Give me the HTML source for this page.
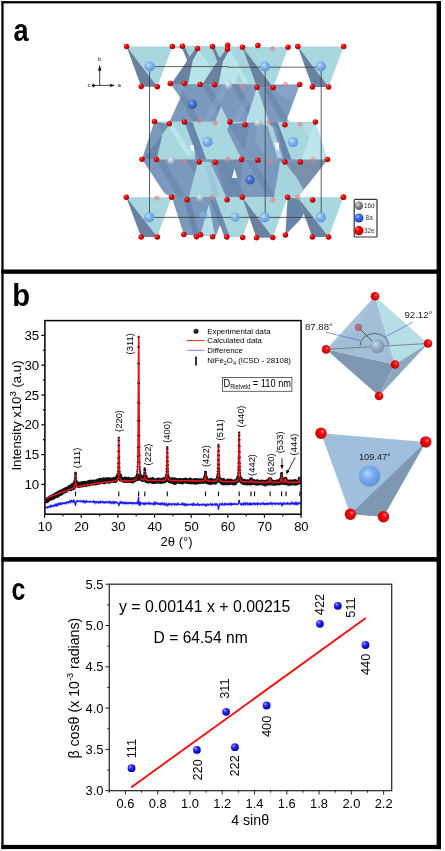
<!DOCTYPE html>
<html><head><meta charset="utf-8"><style>
html,body{margin:0;padding:0;background:#fff;width:445px;height:851px;overflow:hidden;}
svg{display:block;}
text{font-family:"Liberation Sans",sans-serif;}
</style></head><body>
<svg style="will-change:transform" width="445" height="851" viewBox="0 0 445 851">
<defs>
<clipPath id="clipb"><rect x="45.5" y="321" width="255" height="193"/></clipPath>
<radialGradient id="gblue" cx="0.35" cy="0.32" r="0.75"><stop offset="0" stop-color="#c8c8ff"/><stop offset="0.25" stop-color="#3a3aff"/><stop offset="0.7" stop-color="#0a0ad8"/><stop offset="1" stop-color="#000090"/></radialGradient>
<radialGradient id="gred" cx="0.35" cy="0.32" r="0.75"><stop offset="0" stop-color="#ff8a8a"/><stop offset="0.3" stop-color="#f00000"/><stop offset="1" stop-color="#a00000"/></radialGradient>
<radialGradient id="glb" cx="0.38" cy="0.35" r="0.7"><stop offset="0" stop-color="#cfe6ff"/><stop offset="0.35" stop-color="#86b8ee"/><stop offset="1" stop-color="#5a90d8"/></radialGradient>
<radialGradient id="gdb" cx="0.38" cy="0.35" r="0.7"><stop offset="0" stop-color="#9ab8f0"/><stop offset="0.35" stop-color="#4a78d0"/><stop offset="1" stop-color="#2a50a8"/></radialGradient>
<radialGradient id="ggr" cx="0.38" cy="0.35" r="0.7"><stop offset="0" stop-color="#f4f8f8"/><stop offset="0.4" stop-color="#c8d4d8"/><stop offset="1" stop-color="#98a8b0"/></radialGradient>
<radialGradient id="ggr2" cx="0.38" cy="0.35" r="0.7"><stop offset="0" stop-color="#e0e0e0"/><stop offset="0.4" stop-color="#909090"/><stop offset="1" stop-color="#505050"/></radialGradient>
<radialGradient id="glg" cx="0.38" cy="0.35" r="0.7"><stop offset="0" stop-color="#a8c4ff"/><stop offset="0.35" stop-color="#3a6ee8"/><stop offset="1" stop-color="#1840a8"/></radialGradient>
<radialGradient id="gred2" cx="0.62" cy="0.36" r="0.75"><stop offset="0" stop-color="#ff9a9a"/><stop offset="0.25" stop-color="#f21010"/><stop offset="0.75" stop-color="#d00000"/><stop offset="1" stop-color="#900000"/></radialGradient>
<radialGradient id="gsb" cx="0.38" cy="0.35" r="0.7"><stop offset="0" stop-color="#c8daf0"/><stop offset="0.4" stop-color="#9ab4cc"/><stop offset="1" stop-color="#7890a8"/></radialGradient>
<radialGradient id="gtb" cx="0.4" cy="0.38" r="0.65"><stop offset="0" stop-color="#b8d8ff"/><stop offset="0.4" stop-color="#7eb0f0"/><stop offset="1" stop-color="#5a8ed8"/></radialGradient>
</defs><polygon points="182.3,45.8 288.0,47.2 273.2,87.4 257.0,87.3 242.6,85.0 170.3,83.8 188.7,60.2" fill="#a9d7df"/>
<polygon points="172.4,46.2 182.3,45.8 183.5,48.2 172.0,48.2" fill="#a9d7df"/>
<polygon points="192.0,60.0 197.5,48.4 210.0,66.0 206.0,84.0 186.5,84.0" fill="#bde6ee" fill-opacity="0.85"/>
<polygon points="222.0,61.3 227.6,49.6 239.5,66.0 236.0,84.0 217.0,84.0" fill="#bde6ee" fill-opacity="0.85"/>
<polygon points="226.0,51.0 231.0,51.0 248.5,83.0 243.5,83.0" fill="#bde6ee" fill-opacity="0.90"/>
<polygon points="181.2,45.8 184.2,45.8 189.5,57.0 196.0,47.8 199.0,49.5 192.8,60.5 188.0,84.0 171.5,84.0 187.2,60.5" fill="#6a829f"/>
<polygon points="211.4,46.5 214.2,46.5 219.6,58.0 226.4,49.0 229.0,50.5 223.0,61.5 218.6,84.0 202.5,84.0 217.4,61.5" fill="#6a829f"/>
<polygon points="170.3,84.0 299.7,84.6 284.9,124.8 169.3,122.5 180.6,97.0" fill="#7b99bd"/>
<polygon points="172.0,84.0 179.0,84.0 201.0,122.5 194.0,122.5" fill="#6886aa" fill-opacity="0.70"/>
<polygon points="201.5,84.0 208.5,84.0 230.5,122.5 223.5,122.5" fill="#6886aa" fill-opacity="0.70"/>
<polygon points="231.0,84.0 238.0,84.0 260.0,122.5 253.0,122.5" fill="#6886aa" fill-opacity="0.70"/>
<polygon points="260.5,84.0 267.5,84.0 289.5,122.5 282.5,122.5" fill="#6886aa" fill-opacity="0.70"/>
<polygon points="223.5,84.0 230.5,84.0 208.5,122.5 201.5,122.5" fill="#8fb0d2" fill-opacity="0.35"/>
<polygon points="253.0,84.0 260.0,84.0 238.0,122.5 231.0,122.5" fill="#8fb0d2" fill-opacity="0.35"/>
<polygon points="170.3,84.0 184.3,84.0 180.6,97.0" fill="#8fb0d2" fill-opacity="0.50"/>
<polygon points="257.0,87.0 245.7,122.5 269.3,122.5" fill="#bde6ee" fill-opacity="0.90"/>
<polygon points="221.0,106.0 215.0,122.3 229.0,122.3" fill="#bde6ee" fill-opacity="0.80"/>
<polygon points="272.0,87.0 299.7,84.6 292.0,100.0 281.0,96.0" fill="#8fb0d2" fill-opacity="0.50"/>
<polygon points="154.5,121.4 315.4,122.1 327.5,159.4 142.0,159.2" fill="#a9d7df"/>
<polygon points="154.5,121.4 162.6,134.0 142.0,159.2" fill="#7b99bd"/>
<polygon points="162.6,134.0 156.4,160.1 142.0,159.2" fill="#6886aa"/>
<polygon points="154.5,121.4 169.6,124.2 162.6,134.0" fill="#6886aa" fill-opacity="0.85"/>
<polygon points="166.7,124.0 172.7,124.0 192.9,156.1 186.9,156.1" fill="#bde6ee" fill-opacity="0.90"/>
<polygon points="195.0,131.0 204.0,160.5 195.0,160.5" fill="#6886aa" fill-opacity="0.80"/>
<polygon points="224.0,124.0 258.0,122.4 266.0,126.0 266.0,159.5 241.9,159.5" fill="#7b99bd"/>
<polygon points="228.0,124.0 250.0,123.0 244.0,150.0" fill="#6886aa" fill-opacity="0.60"/>
<polygon points="258.0,122.4 266.0,126.0 266.0,159.5 255.0,140.0" fill="#8fb0d2" fill-opacity="0.50"/>
<polygon points="184.5,122.0 230.0,122.0 215.4,162.0 199.2,162.0" fill="#a9d7df"/>
<polygon points="184.5,122.0 192.5,122.0 207.0,161.5 199.2,162.0" fill="#6886aa"/>
<polygon points="269.5,122.1 315.4,122.1 300.3,162.1 284.9,162.1" fill="#a9d7df"/>
<polygon points="269.5,122.1 277.5,122.1 292.5,162.0 284.9,162.1" fill="#6886aa"/>
<polygon points="315.4,122.1 327.5,159.6 300.3,162.1" fill="#bde6ee" fill-opacity="0.95"/>
<polygon points="300.3,124.5 315.4,122.1 310.0,140.0" fill="#bde6ee" fill-opacity="0.50"/>
<polygon points="266.0,126.0 276.0,126.0 284.9,162.0 266.0,159.5" fill="#7b99bd" fill-opacity="0.90"/>
<polygon points="267.5,126.0 272.5,126.0 282.5,158.0 277.5,158.0" fill="#bde6ee" fill-opacity="0.70"/>
<polygon points="189.9,145.3 194.0,145.3 194.0,150.7 191.5,151.5" fill="#ffffff" fill-opacity="0.95"/>
<polygon points="274.5,142.5 279.0,142.5 279.0,149.6 276.5,150.5" fill="#ffffff" fill-opacity="0.95"/>
<polygon points="142.0,159.2 327.5,159.4 304.8,188.3 297.6,197.2 172.0,197.2 164.5,193.2" fill="#7b99bd"/>
<polygon points="156.0,160.0 164.0,160.0 186.0,197.5 178.0,197.5" fill="#6886aa" fill-opacity="0.60"/>
<polygon points="186.0,160.0 194.0,160.0 216.0,197.5 208.0,197.5" fill="#6886aa" fill-opacity="0.60"/>
<polygon points="216.0,160.0 224.0,160.0 246.0,197.5 238.0,197.5" fill="#6886aa" fill-opacity="0.60"/>
<polygon points="246.0,160.0 254.0,160.0 276.0,197.5 268.0,197.5" fill="#6886aa" fill-opacity="0.60"/>
<polygon points="198.0,162.0 210.0,162.0 227.0,199.0 188.0,199.9" fill="#a9d7df" fill-opacity="0.95"/>
<polygon points="205.0,166.0 210.0,166.0 220.0,197.0 214.0,197.0" fill="#8fb0d2" fill-opacity="0.35"/>
<polygon points="280.0,162.0 290.0,162.0 303.0,190.0 297.6,197.2 274.0,197.0" fill="#a9d7df" fill-opacity="0.95"/>
<polygon points="284.5,162.0 327.8,159.4 304.8,188.3" fill="#7890aa"/>
<polygon points="215.0,162.0 242.0,159.4 240.0,197.0 227.0,199.0" fill="#6886aa" fill-opacity="0.70"/>
<polygon points="231.9,178.0 237.2,178.0 234.6,168.5" fill="#ffffff" fill-opacity="0.95"/>
<polygon points="171.8,197.0 212.1,197.0 227.0,237.0 183.9,234.8" fill="#7b99bd"/>
<polygon points="209.0,204.0 200.4,234.8 215.0,236.6" fill="#bde6ee" fill-opacity="0.90"/>
<polygon points="184.1,199.6 190.1,199.6 199.5,236.6 193.5,236.6" fill="#6886aa" fill-opacity="0.90"/>
<polygon points="212.1,197.0 257.5,197.0 242.3,237.3 227.0,237.0" fill="#a9d7df"/>
<polygon points="209.1,197.0 215.1,197.0 230.0,237.0 224.0,237.0" fill="#6886aa" fill-opacity="0.90"/>
<polygon points="287.6,197.2 312.7,199.9 300.0,220.0 285.4,234.9" fill="#6886aa"/>
<polygon points="215.5,237.0 224.5,237.0 220.0,225.0" fill="#ffffff" fill-opacity="0.95"/>
<polygon points="126.6,46.6 172.4,46.6 157.3,86.7 141.2,86.5" fill="#a9d7df"/>
<polygon points="126.6,46.6 157.3,86.7 141.2,86.5" fill="#6a829f"/>
<polygon points="242.5,47.2 288.0,47.2 273.2,87.4 257.0,87.3" fill="#a9d7df"/>
<polygon points="242.5,47.2 273.2,87.4 257.0,87.3" fill="#6a829f"/>
<polygon points="297.8,46.6 343.7,46.6 328.6,87.1 312.4,87.1" fill="#a9d7df"/>
<polygon points="297.8,46.6 328.6,87.1 312.4,87.1" fill="#6a829f"/>
<polygon points="126.3,197.2 171.6,197.2 157.3,237.1 141.2,237.1" fill="#a9d7df"/>
<polygon points="126.3,197.2 157.3,237.1 141.2,237.1" fill="#6a829f"/>
<polygon points="242.3,197.3 287.6,197.2 272.8,237.6 256.5,237.7" fill="#a9d7df"/>
<polygon points="242.3,197.3 272.8,237.6 256.5,237.7" fill="#6a829f"/>
<polygon points="297.6,197.2 343.4,197.2 328.6,237.1 312.4,237.1" fill="#a9d7df"/>
<polygon points="297.6,197.2 328.6,237.1 312.4,237.1" fill="#6a829f"/>
<g stroke="#383838" stroke-width="0.8" fill="none">
<polyline points="149.5,66.6 227.8,66.6 227.8,67.2 321.2,67.2"/>
<line x1="149.5" y1="66.6" x2="149.5" y2="217.4"/>
<line x1="265.2" y1="66.6" x2="265.2" y2="217.4"/>
<line x1="321.2" y1="67.2" x2="321.2" y2="217"/>
<line x1="149.5" y1="217.4" x2="313" y2="217.4"/>
</g>
<circle cx="149.7" cy="66.5" r="5.1" fill="url(#glb)"/>
<circle cx="264.9" cy="66.5" r="5.1" fill="url(#glb)"/>
<circle cx="320.8" cy="66.4" r="5.1" fill="url(#glb)"/>
<circle cx="207.5" cy="141.8" r="5.1" fill="url(#glb)"/>
<circle cx="293.0" cy="142.2" r="5.1" fill="url(#glb)"/>
<circle cx="149.2" cy="217.4" r="5.1" fill="url(#glb)"/>
<circle cx="264.7" cy="217.4" r="5.1" fill="url(#glb)"/>
<circle cx="320.8" cy="217.4" r="5.1" fill="url(#glb)"/>
<circle cx="235.1" cy="217.2" r="4.6" fill="url(#glb)" fill-opacity="0.8"/>
<circle cx="203.5" cy="215.3" r="4.4" fill="url(#glb)" fill-opacity="0.4"/>
<circle cx="192.4" cy="104.2" r="4.7" fill="url(#gdb)"/>
<circle cx="250.1" cy="179.8" r="4.7" fill="url(#gdb)"/>
<circle cx="228.6" cy="85.2" r="3.7" fill="url(#ggr)" fill-opacity="0.85"/>
<circle cx="257.9" cy="123.0" r="3.7" fill="url(#ggr)" fill-opacity="0.85"/>
<circle cx="171.1" cy="160.5" r="3.7" fill="url(#ggr)" fill-opacity="0.85"/>
<circle cx="200.0" cy="197.6" r="3.7" fill="url(#ggr)" fill-opacity="0.85"/>
<circle cx="272.7" cy="48.5" r="2.6" fill="#e08080" fill-opacity="0.6"/>
<circle cx="242.6" cy="87.0" r="2.6" fill="#e08080" fill-opacity="0.6"/>
<circle cx="285.6" cy="84.3" r="2.6" fill="#e08080" fill-opacity="0.6"/>
<circle cx="199.8" cy="120.6" r="2.6" fill="#e08080" fill-opacity="0.6"/>
<circle cx="215.3" cy="122.8" r="2.6" fill="#e08080" fill-opacity="0.6"/>
<circle cx="269.5" cy="122.1" r="2.6" fill="#e08080" fill-opacity="0.6"/>
<circle cx="300.3" cy="124.3" r="2.6" fill="#e08080" fill-opacity="0.6"/>
<circle cx="184.6" cy="161.6" r="2.6" fill="#e08080" fill-opacity="0.6"/>
<circle cx="227.7" cy="159.4" r="2.6" fill="#e08080" fill-opacity="0.6"/>
<circle cx="270.0" cy="161.0" r="2.6" fill="#e08080" fill-opacity="0.6"/>
<circle cx="313.2" cy="159.4" r="2.6" fill="#e08080" fill-opacity="0.6"/>
<circle cx="156.8" cy="198.0" r="2.6" fill="#e08080" fill-opacity="0.6"/>
<circle cx="212.0" cy="197.4" r="2.6" fill="#e08080" fill-opacity="0.6"/>
<circle cx="272.8" cy="199.9" r="2.6" fill="#e08080" fill-opacity="0.6"/>
<circle cx="297.6" cy="197.2" r="2.6" fill="#e08080" fill-opacity="0.6"/>
<circle cx="126.6" cy="46.6" r="2.75" fill="url(#gred)"/>
<circle cx="172.4" cy="46.6" r="2.75" fill="url(#gred)"/>
<circle cx="182.4" cy="46.2" r="2.75" fill="url(#gred)"/>
<circle cx="197.5" cy="48.6" r="2.75" fill="url(#gred)"/>
<circle cx="212.5" cy="46.5" r="2.75" fill="url(#gred)"/>
<circle cx="227.7" cy="45.3" r="2.75" fill="url(#gred)"/>
<circle cx="227.5" cy="49.2" r="2.75" fill="url(#gred)"/>
<circle cx="242.5" cy="47.2" r="2.75" fill="url(#gred)"/>
<circle cx="257.9" cy="45.6" r="2.75" fill="url(#gred)"/>
<circle cx="288.0" cy="47.2" r="2.75" fill="url(#gred)"/>
<circle cx="297.8" cy="46.6" r="2.75" fill="url(#gred)"/>
<circle cx="343.7" cy="46.6" r="2.75" fill="url(#gred)"/>
<circle cx="141.2" cy="86.5" r="2.75" fill="url(#gred)"/>
<circle cx="157.3" cy="86.7" r="2.75" fill="url(#gred)"/>
<circle cx="170.3" cy="83.4" r="2.75" fill="url(#gred)"/>
<circle cx="184.3" cy="83.4" r="2.75" fill="url(#gred)"/>
<circle cx="200.2" cy="84.4" r="2.75" fill="url(#gred)"/>
<circle cx="214.6" cy="84.7" r="2.75" fill="url(#gred)"/>
<circle cx="257.0" cy="87.3" r="2.75" fill="url(#gred)"/>
<circle cx="273.2" cy="87.4" r="2.75" fill="url(#gred)"/>
<circle cx="299.7" cy="84.6" r="2.75" fill="url(#gred)"/>
<circle cx="312.4" cy="87.1" r="2.75" fill="url(#gred)"/>
<circle cx="328.6" cy="87.1" r="2.75" fill="url(#gred)"/>
<circle cx="154.5" cy="121.4" r="2.75" fill="url(#gred)"/>
<circle cx="169.3" cy="123.8" r="2.75" fill="url(#gred)"/>
<circle cx="184.5" cy="122.0" r="2.75" fill="url(#gred)"/>
<circle cx="230.0" cy="122.0" r="2.75" fill="url(#gred)"/>
<circle cx="245.0" cy="124.8" r="2.75" fill="url(#gred)"/>
<circle cx="284.9" cy="124.8" r="2.75" fill="url(#gred)"/>
<circle cx="315.4" cy="122.1" r="2.75" fill="url(#gred)"/>
<circle cx="142.0" cy="159.2" r="2.75" fill="url(#gred)"/>
<circle cx="156.5" cy="159.6" r="2.75" fill="url(#gred)"/>
<circle cx="199.2" cy="161.9" r="2.75" fill="url(#gred)"/>
<circle cx="215.4" cy="162.2" r="2.75" fill="url(#gred)"/>
<circle cx="241.7" cy="159.4" r="2.75" fill="url(#gred)"/>
<circle cx="257.9" cy="160.2" r="2.75" fill="url(#gred)"/>
<circle cx="284.9" cy="162.1" r="2.75" fill="url(#gred)"/>
<circle cx="300.3" cy="162.1" r="2.75" fill="url(#gred)"/>
<circle cx="327.5" cy="159.4" r="2.75" fill="url(#gred)"/>
<circle cx="126.3" cy="197.2" r="2.75" fill="url(#gred)"/>
<circle cx="171.6" cy="197.2" r="2.75" fill="url(#gred)"/>
<circle cx="187.1" cy="199.7" r="2.75" fill="url(#gred)"/>
<circle cx="227.1" cy="199.7" r="2.75" fill="url(#gred)"/>
<circle cx="242.3" cy="197.3" r="2.75" fill="url(#gred)"/>
<circle cx="287.6" cy="197.2" r="2.75" fill="url(#gred)"/>
<circle cx="312.7" cy="199.9" r="2.75" fill="url(#gred)"/>
<circle cx="343.4" cy="197.2" r="2.75" fill="url(#gred)"/>
<circle cx="141.2" cy="237.1" r="2.75" fill="url(#gred)"/>
<circle cx="157.3" cy="237.1" r="2.75" fill="url(#gred)"/>
<circle cx="183.8" cy="234.5" r="2.75" fill="url(#gred)"/>
<circle cx="196.5" cy="236.8" r="2.75" fill="url(#gred)"/>
<circle cx="200.6" cy="234.8" r="2.75" fill="url(#gred)"/>
<circle cx="212.6" cy="236.8" r="2.75" fill="url(#gred)"/>
<circle cx="226.8" cy="237.1" r="2.75" fill="url(#gred)"/>
<circle cx="242.7" cy="237.4" r="2.75" fill="url(#gred)"/>
<circle cx="256.5" cy="237.7" r="2.75" fill="url(#gred)"/>
<circle cx="272.8" cy="237.6" r="2.75" fill="url(#gred)"/>
<circle cx="285.4" cy="234.9" r="2.75" fill="url(#gred)"/>
<circle cx="312.4" cy="237.1" r="2.75" fill="url(#gred)"/>
<circle cx="328.6" cy="237.1" r="2.75" fill="url(#gred)"/>
<circle cx="343.4" cy="197.3" r="2.75" fill="url(#gred)"/>
<rect x="354.2" y="199.4" width="22.8" height="37.6" fill="#fff" stroke="#333" stroke-width="1.2" rx="1"/>
<circle cx="358.9" cy="205.8" r="4.2" fill="url(#ggr2)"/>
<circle cx="358.9" cy="218" r="4.6" fill="url(#glg)"/>
<circle cx="358.9" cy="230.7" r="4.6" fill="url(#gred)"/>
<text x="364" y="207.9" font-size="6.4" fill="#333" font-family="Liberation Sans, sans-serif">16d</text>
<text x="365.6" y="220.2" font-size="6.4" fill="#333" font-family="Liberation Sans, sans-serif">8a</text>
<text x="364" y="232.9" font-size="6.4" fill="#333" font-family="Liberation Sans, sans-serif">32e</text>
<g stroke="#111" stroke-width="0.8"><line x1="93.5" y1="85.4" x2="111" y2="85.4"/><line x1="99.7" y1="85.4" x2="99.7" y2="69"/></g>
<path d="M99.7,64.6 L98,70.8 L101.4,70.8 Z M114.8,85.4 L110.3,83.7 L110.3,87.1 Z" fill="#111"/>
<path d="M93.5,83.4 L95.5,85.4 L93.5,87.4 L91.5,85.4 Z" fill="#111"/>
<text x="98.1" y="61.2" font-size="6.2" fill="#222" font-family="Liberation Sans, sans-serif">b</text>
<text x="117.6" y="86.9" font-size="6.2" fill="#222" font-family="Liberation Sans, sans-serif">a</text>
<text x="87.4" y="87.1" font-size="6.2" fill="#222" font-family="Liberation Sans, sans-serif">c</text>
<g clip-path="url(#clipb)">
<polyline fill="none" stroke="#111" stroke-width="4.2" stroke-linejoin="round" points="44.60,501.45 44.78,500.89 44.97,501.24 45.15,501.19 45.33,501.46 45.52,500.93 45.70,500.04 45.88,500.35 46.07,499.89 46.25,500.26 46.43,500.07 46.62,500.10 46.80,501.10 46.98,499.50 47.16,499.61 47.35,499.51 47.53,500.72 47.71,500.65 47.90,500.04 48.08,499.69 48.26,499.13 48.45,499.24 48.63,498.81 48.81,499.40 49.00,498.74 49.18,498.59 49.36,499.12 49.55,497.60 49.73,498.19 49.91,497.71 50.10,498.70 50.28,498.67 50.46,498.33 50.65,498.09 50.83,497.55 51.01,497.68 51.20,498.00 51.38,498.20 51.56,497.84 51.74,496.71 51.93,497.82 52.11,497.09 52.29,496.88 52.48,497.92 52.66,496.91 52.84,496.06 53.03,497.94 53.21,496.83 53.39,496.60 53.58,496.93 53.76,496.05 53.94,496.28 54.13,497.02 54.31,495.55 54.49,495.55 54.68,495.28 54.86,494.89 55.04,495.43 55.23,495.48 55.41,496.22 55.59,494.98 55.78,495.62 55.96,495.42 56.14,495.81 56.32,495.53 56.51,495.17 56.69,493.99 56.87,495.87 57.06,495.43 57.24,494.32 57.42,493.50 57.61,493.92 57.79,495.29 57.97,495.56 58.16,493.75 58.34,494.30 58.52,494.43 58.71,493.08 58.89,492.91 59.07,493.37 59.26,493.22 59.44,493.01 59.62,492.22 59.81,492.70 59.99,492.66 60.17,492.55 60.36,493.72 60.54,491.93 60.72,492.04 60.90,492.20 61.09,493.60 61.27,492.71 61.45,491.74 61.64,493.23 61.82,492.17 62.00,491.36 62.19,492.66 62.37,490.83 62.55,491.37 62.74,491.69 62.92,491.32 63.10,491.04 63.29,491.26 63.47,490.56 63.65,491.54 63.84,491.30 64.02,490.35 64.20,490.86 64.39,491.31 64.57,490.13 64.75,489.73 64.94,490.78 65.12,491.24 65.30,490.41 65.48,490.33 65.67,490.32 65.85,489.22 66.03,490.57 66.22,489.12 66.40,490.53 66.58,490.16 66.77,489.22 66.95,488.83 67.13,488.90 67.32,489.11 67.50,489.14 67.68,489.05 67.87,488.70 68.05,489.06 68.23,488.69 68.42,488.43 68.60,488.67 68.78,488.13 68.97,488.15 69.15,487.20 69.33,488.11 69.52,488.46 69.70,488.34 69.88,488.03 70.06,487.38 70.25,488.03 70.43,487.51 70.61,486.55 70.80,489.08 70.98,488.12 71.16,487.21 71.35,487.02 71.53,487.01 71.71,487.31 71.90,486.56 72.08,486.68 72.26,487.05 72.45,485.19 72.63,486.31 72.81,486.74 73.00,486.82 73.18,486.80 73.36,486.60 73.55,488.07 73.73,486.60 73.91,485.54 74.10,486.62 74.28,485.63 74.46,484.43 74.64,483.36 74.83,482.59 75.01,484.43 75.19,483.57 75.27,483.54 75.38,482.94 75.49,482.62 75.56,484.85 75.60,482.59 75.71,484.07 75.74,482.79 75.93,484.03 76.11,482.98 76.29,482.35 76.48,484.32 76.66,484.68 76.84,484.57 77.03,485.09 77.21,485.29 77.39,484.35 77.58,484.65 77.76,485.44 77.94,483.62 78.13,485.91 78.31,484.66 78.49,485.33 78.68,485.05 78.86,484.67 79.04,484.92 79.22,484.62 79.41,485.87 79.59,485.81 79.77,484.50 79.96,485.39 80.14,485.38 80.32,485.59 80.51,483.91 80.69,484.17 80.87,483.68 81.06,485.07 81.24,484.45 81.42,485.11 81.61,483.94 81.79,483.42 81.97,484.87 82.16,483.37 82.34,483.68 82.52,484.35 82.71,485.39 82.89,483.34 83.07,484.21 83.26,484.48 83.44,483.85 83.62,483.81 83.80,483.13 83.99,484.60 84.17,483.28 84.35,483.04 84.54,483.03 84.72,483.97 84.90,484.27 85.09,483.19 85.27,483.70 85.45,483.66 85.64,482.85 85.82,483.83 86.00,485.01 86.19,483.84 86.37,484.68 86.55,483.05 86.74,483.32 86.92,483.84 87.10,483.45 87.29,482.92 87.47,483.33 87.65,482.56 87.84,483.35 88.02,482.66 88.20,482.36 88.38,482.26 88.57,483.59 88.75,482.63 88.93,484.24 89.12,483.73 89.30,484.23 89.48,482.39 89.67,483.73 89.85,482.97 90.03,483.04 90.22,482.91 90.40,483.21 90.58,482.69 90.77,481.73 90.95,482.74 91.13,482.41 91.32,482.10 91.50,482.78 91.68,483.38 91.87,482.93 92.05,481.93 92.23,483.52 92.42,482.86 92.60,481.87 92.78,481.96 92.96,482.40 93.15,481.89 93.33,482.24 93.51,483.01 93.70,483.21 93.88,482.62 94.06,481.66 94.25,482.51 94.43,482.68 94.61,482.57 94.80,482.99 94.98,482.12 95.16,482.72 95.35,481.76 95.53,483.35 95.71,481.72 95.90,482.26 96.08,483.01 96.26,481.38 96.45,481.95 96.63,483.08 96.81,482.24 97.00,481.51 97.18,481.93 97.36,481.15 97.54,481.14 97.73,481.16 97.91,481.33 98.09,480.69 98.28,481.08 98.46,481.18 98.64,482.67 98.83,480.88 99.01,480.62 99.19,481.55 99.38,481.64 99.56,480.18 99.74,482.37 99.93,481.02 100.11,479.84 100.29,481.82 100.48,480.84 100.66,480.10 100.84,481.28 101.03,480.86 101.21,480.63 101.39,481.69 101.58,481.19 101.76,480.94 101.94,480.61 102.12,481.10 102.31,481.18 102.49,481.65 102.67,481.24 102.86,480.47 103.04,480.92 103.22,481.47 103.41,481.45 103.59,479.34 103.77,480.23 103.96,480.51 104.14,482.42 104.32,480.48 104.51,480.55 104.69,479.81 104.87,480.54 105.06,480.82 105.24,480.45 105.42,481.90 105.61,480.10 105.79,480.51 105.97,481.10 106.16,479.87 106.34,479.56 106.52,481.46 106.70,481.00 106.89,480.41 107.07,480.46 107.25,480.78 107.44,481.11 107.62,479.24 107.80,479.87 107.99,481.18 108.17,481.25 108.35,479.41 108.54,479.82 108.72,479.30 108.90,479.89 109.09,480.87 109.27,480.17 109.45,481.60 109.64,480.73 109.82,480.30 110.00,479.94 110.19,480.66 110.37,480.28 110.55,479.91 110.74,479.94 110.92,479.76 111.10,480.00 111.28,480.29 111.47,479.61 111.65,480.03 111.83,480.52 112.02,480.38 112.20,479.99 112.38,480.03 112.57,479.85 112.75,479.91 112.93,479.78 113.12,479.94 113.30,480.59 113.48,479.56 113.67,479.15 113.85,479.49 114.03,479.83 114.22,479.42 114.40,480.23 114.58,480.75 114.77,479.54 114.95,480.09 115.13,479.05 115.32,480.09 115.50,480.96 115.68,479.95 115.86,478.33 116.05,479.42 116.23,479.93 116.41,479.48 116.60,478.60 116.78,478.48 116.96,478.49 117.15,477.47 117.33,477.60 117.51,477.53 117.70,476.35 117.88,475.72 118.06,476.13 118.25,476.10 118.43,477.37 118.58,476.81 118.61,476.29 118.69,476.90 118.80,476.09 118.91,476.38 118.98,476.20 119.02,476.87 119.16,475.23 119.35,476.01 119.53,476.88 119.71,476.71 119.90,475.22 120.08,477.78 120.26,477.56 120.44,477.83 120.63,478.65 120.81,479.53 120.99,478.87 121.18,478.88 121.36,478.51 121.54,478.80 121.73,479.31 121.91,478.87 122.09,479.10 122.28,479.34 122.46,479.47 122.64,479.68 122.83,479.15 123.01,480.21 123.19,479.98 123.38,479.62 123.56,480.52 123.74,479.92 123.93,480.87 124.11,480.10 124.29,479.36 124.48,479.38 124.66,479.76 124.84,479.88 125.02,480.59 125.21,478.67 125.39,479.46 125.57,479.12 125.76,480.31 125.94,479.90 126.12,480.88 126.31,479.34 126.49,479.25 126.67,480.95 126.86,479.86 127.04,479.45 127.22,480.89 127.41,480.93 127.59,480.48 127.77,480.22 127.96,480.69 128.14,479.84 128.32,479.71 128.51,479.49 128.69,479.45 128.87,478.98 129.06,479.18 129.24,480.66 129.42,480.18 129.60,480.51 129.79,480.52 129.97,479.93 130.15,479.88 130.34,479.59 130.52,480.82 130.70,480.61 130.89,479.89 131.07,479.99 131.25,480.05 131.44,479.90 131.62,480.31 131.80,479.43 131.99,479.63 132.17,479.88 132.35,480.22 132.54,479.91 132.72,481.41 132.90,480.36 133.09,479.74 133.27,480.63 133.45,479.59 133.64,479.60 133.82,480.48 134.00,479.77 134.18,479.77 134.37,479.26 134.55,479.11 134.73,479.44 134.92,479.85 135.10,479.35 135.28,479.20 135.47,478.61 135.65,478.73 135.83,479.17 136.02,479.35 136.20,478.51 136.38,478.43 136.57,478.26 136.75,477.40 136.93,477.63 137.12,477.28 137.30,477.03 137.48,477.60 137.67,475.97 137.85,477.56 138.03,476.71 138.22,477.30 138.40,476.72 138.47,478.80 138.58,477.84 138.69,477.25 138.76,477.04 138.80,476.00 138.91,477.21 138.95,476.64 139.13,476.95 139.31,476.85 139.50,477.12 139.68,477.52 139.86,477.13 140.05,478.08 140.23,476.74 140.41,478.06 140.60,477.31 140.78,476.34 140.96,478.15 141.15,478.33 141.33,477.91 141.51,478.80 141.70,479.47 141.88,478.97 142.06,478.90 142.25,478.91 142.43,479.87 142.61,478.42 142.80,478.51 142.98,479.51 143.16,479.36 143.34,479.73 143.53,478.54 143.71,479.60 143.89,478.30 144.08,477.95 144.26,477.99 144.44,477.16 144.59,476.79 144.63,477.60 144.70,478.00 144.81,477.11 144.92,477.63 144.99,477.42 145.03,476.70 145.18,476.93 145.36,477.92 145.54,476.51 145.73,478.97 145.91,479.04 146.09,480.16 146.28,479.96 146.46,481.08 146.64,479.06 146.83,479.37 147.01,480.96 147.19,481.18 147.38,481.29 147.56,479.65 147.74,480.66 147.92,480.44 148.11,480.62 148.29,480.52 148.47,481.12 148.66,480.48 148.84,481.36 149.02,480.56 149.21,480.35 149.39,480.27 149.57,480.70 149.76,481.12 149.94,480.49 150.12,480.89 150.31,479.68 150.49,480.17 150.67,480.70 150.86,480.93 151.04,481.07 151.22,481.22 151.41,480.88 151.59,480.51 151.77,480.38 151.96,480.36 152.14,479.46 152.32,481.14 152.50,480.72 152.69,479.07 152.87,481.86 153.05,481.06 153.24,480.66 153.42,480.67 153.60,480.53 153.79,480.92 153.97,480.57 154.15,480.77 154.34,480.34 154.52,481.94 154.70,481.34 154.89,480.82 155.07,481.43 155.25,481.44 155.44,480.45 155.62,481.21 155.80,480.45 155.99,480.38 156.17,480.64 156.35,480.53 156.54,480.89 156.72,481.67 156.90,480.85 157.08,480.56 157.27,481.15 157.45,480.89 157.63,480.39 157.82,481.36 158.00,480.45 158.18,479.73 158.37,481.17 158.55,480.75 158.73,480.93 158.92,479.92 159.10,480.65 159.28,480.30 159.47,481.25 159.65,480.84 159.83,480.84 160.02,481.89 160.20,479.97 160.38,480.29 160.57,481.87 160.75,480.38 160.93,480.90 161.12,480.55 161.30,480.59 161.48,481.70 161.66,480.93 161.85,479.91 162.03,481.14 162.21,481.40 162.40,481.59 162.58,481.50 162.76,480.56 162.95,479.74 163.13,480.48 163.31,480.57 163.50,479.37 163.68,480.99 163.86,481.05 164.05,480.31 164.23,480.26 164.41,481.15 164.60,481.19 164.78,480.26 164.96,480.21 165.15,481.03 165.33,480.25 165.51,480.29 165.70,479.47 165.88,479.49 166.06,478.93 166.24,478.19 166.43,477.36 166.61,477.16 166.79,478.21 166.98,477.48 167.05,478.44 167.16,477.95 167.16,477.54 167.27,477.09 167.34,478.22 167.38,478.03 167.49,477.87 167.53,478.88 167.71,477.98 167.89,478.40 168.08,477.77 168.26,478.67 168.44,479.91 168.63,479.33 168.81,479.55 168.99,480.28 169.18,479.60 169.36,480.42 169.54,480.73 169.73,480.17 169.91,481.45 170.09,480.98 170.28,480.63 170.46,480.15 170.64,480.79 170.82,480.54 171.01,481.14 171.19,480.59 171.37,479.79 171.56,481.21 171.74,479.41 171.92,481.21 172.11,480.83 172.29,480.75 172.47,480.25 172.66,481.61 172.84,482.13 173.02,480.53 173.21,480.42 173.39,480.53 173.57,479.34 173.76,480.79 173.94,480.77 174.12,480.37 174.31,480.71 174.49,479.94 174.67,481.67 174.86,481.16 175.04,483.00 175.22,480.46 175.40,481.17 175.59,480.40 175.77,479.67 175.95,480.96 176.14,481.11 176.32,481.26 176.50,481.47 176.69,481.35 176.87,480.59 177.05,480.95 177.24,480.94 177.42,481.08 177.60,480.44 177.79,480.69 177.97,481.07 178.15,480.59 178.34,481.08 178.52,481.68 178.70,480.13 178.89,480.72 179.07,481.57 179.25,480.36 179.44,480.80 179.62,481.94 179.80,480.04 179.98,480.81 180.17,480.48 180.35,480.89 180.53,481.10 180.72,481.94 180.90,480.43 181.08,481.00 181.27,481.19 181.45,480.81 181.63,480.97 181.82,480.62 182.00,481.24 182.18,481.05 182.37,482.30 182.55,481.28 182.73,480.63 182.92,480.23 183.10,481.25 183.28,481.10 183.47,480.09 183.65,481.23 183.83,480.60 184.02,480.04 184.20,481.01 184.38,480.31 184.56,481.46 184.75,480.92 184.93,481.09 185.11,480.98 185.30,480.37 185.48,479.62 185.66,481.44 185.85,481.39 186.03,480.75 186.21,481.68 186.40,480.76 186.58,480.71 186.76,481.22 186.95,480.74 187.13,481.98 187.31,480.61 187.50,481.98 187.68,481.48 187.86,481.39 188.05,481.30 188.23,480.55 188.41,481.02 188.60,481.30 188.78,480.74 188.96,480.13 189.14,481.07 189.33,480.85 189.51,480.33 189.69,480.91 189.88,481.84 190.06,479.59 190.24,479.76 190.43,482.27 190.61,481.11 190.79,480.84 190.98,480.52 191.16,480.70 191.34,481.27 191.53,481.74 191.71,481.05 191.89,480.50 192.08,481.77 192.26,481.74 192.44,481.15 192.63,482.29 192.81,481.30 192.99,481.41 193.18,480.88 193.36,481.57 193.54,481.68 193.72,481.40 193.91,481.20 194.09,481.57 194.27,481.17 194.46,480.73 194.64,480.48 194.82,480.17 195.01,481.66 195.19,481.45 195.37,482.68 195.56,480.07 195.74,481.64 195.92,481.23 196.11,480.91 196.29,482.03 196.47,480.95 196.66,481.24 196.84,482.32 197.02,481.06 197.21,480.53 197.39,482.36 197.57,480.77 197.76,481.13 197.94,480.97 198.12,481.00 198.30,480.49 198.49,481.40 198.67,480.75 198.85,481.52 199.04,480.84 199.22,481.76 199.40,481.35 199.59,480.25 199.77,481.02 199.95,481.38 200.14,481.97 200.32,481.76 200.50,481.18 200.69,480.73 200.87,481.04 201.05,480.98 201.24,481.32 201.42,480.49 201.60,481.52 201.79,481.62 201.97,480.76 202.15,481.24 202.34,481.44 202.52,481.61 202.70,481.41 202.88,480.87 203.07,481.01 203.25,481.91 203.43,480.91 203.62,481.01 203.80,481.65 203.98,480.51 204.17,481.00 204.35,480.78 204.53,479.59 204.72,478.33 204.90,478.90 205.08,478.23 205.27,479.02 205.27,477.12 205.38,478.80 205.45,477.79 205.49,478.89 205.60,478.02 205.63,477.19 205.71,480.02 205.82,478.77 206.00,478.22 206.18,478.65 206.37,480.19 206.55,479.18 206.73,480.76 206.92,481.97 207.10,480.59 207.28,482.20 207.46,480.54 207.65,481.62 207.83,481.22 208.01,480.59 208.20,481.29 208.38,482.21 208.56,482.41 208.75,480.71 208.93,480.99 209.11,481.93 209.30,480.94 209.48,481.16 209.66,481.08 209.85,482.82 210.03,481.66 210.21,480.95 210.40,481.06 210.58,480.97 210.76,482.97 210.95,481.41 211.13,481.22 211.31,479.99 211.50,482.08 211.68,481.71 211.86,481.50 212.04,480.99 212.23,481.79 212.41,480.84 212.59,481.99 212.78,481.36 212.96,481.83 213.14,481.42 213.33,481.92 213.51,482.46 213.69,480.85 213.88,481.31 214.06,481.81 214.24,481.35 214.43,480.87 214.61,482.02 214.79,481.49 214.98,481.08 215.16,481.06 215.34,481.54 215.53,482.55 215.71,480.50 215.89,480.99 216.08,481.10 216.26,481.18 216.44,480.73 216.62,480.98 216.81,481.13 216.99,480.66 217.17,480.10 217.36,479.25 217.54,479.50 217.72,478.43 217.91,479.60 218.09,478.43 218.27,479.43 218.38,478.62 218.46,478.01 218.49,478.71 218.60,479.27 218.64,478.80 218.71,478.75 218.82,479.87 219.01,479.20 219.19,478.75 219.37,479.13 219.56,478.81 219.74,479.09 219.92,479.67 220.11,479.95 220.29,480.39 220.47,481.10 220.66,481.08 220.84,481.35 221.02,481.47 221.20,481.46 221.39,482.45 221.57,481.67 221.75,481.53 221.94,482.14 222.12,481.61 222.30,481.32 222.49,481.75 222.67,480.44 222.85,483.25 223.04,481.84 223.22,482.82 223.40,481.16 223.59,480.18 223.77,483.27 223.95,481.71 224.14,481.49 224.32,481.99 224.50,481.50 224.69,483.17 224.87,481.34 225.05,481.63 225.24,481.85 225.42,482.22 225.60,481.50 225.78,482.17 225.97,481.76 226.15,482.20 226.33,483.24 226.52,481.93 226.70,481.80 226.88,481.47 227.07,482.45 227.25,481.95 227.43,481.57 227.62,481.86 227.80,481.21 227.98,480.77 228.17,482.50 228.35,483.11 228.53,481.46 228.72,481.06 228.90,481.43 229.08,481.50 229.27,482.35 229.45,482.41 229.63,481.46 229.82,482.54 230.00,483.08 230.18,482.59 230.36,480.52 230.55,480.86 230.73,482.41 230.91,482.44 231.10,481.87 231.28,482.45 231.46,481.22 231.65,482.05 231.83,482.65 232.01,481.22 232.20,482.35 232.38,481.86 232.56,482.00 232.75,482.18 232.93,481.79 233.11,482.39 233.30,483.07 233.48,483.28 233.66,482.72 233.85,482.40 234.03,481.95 234.21,481.90 234.40,481.58 234.58,481.83 234.76,482.35 234.94,482.28 235.13,483.10 235.31,481.91 235.49,481.49 235.68,481.42 235.86,481.76 236.04,481.74 236.23,481.01 236.41,481.48 236.59,480.95 236.78,480.93 236.96,481.00 237.14,480.16 237.33,481.03 237.51,480.57 237.69,480.35 237.88,479.73 238.06,478.33 238.24,478.21 238.43,479.25 238.61,478.93 238.79,478.57 238.94,478.79 238.98,478.56 239.05,480.03 239.16,479.66 239.27,479.01 239.34,478.43 239.38,479.22 239.52,479.80 239.71,479.50 239.89,479.69 240.07,479.81 240.26,478.40 240.44,479.67 240.62,479.91 240.81,479.12 240.99,480.05 241.17,480.81 241.36,481.57 241.54,481.12 241.72,480.52 241.91,481.22 242.09,480.92 242.27,481.69 242.46,481.50 242.64,481.98 242.82,481.65 243.01,481.17 243.19,482.84 243.37,482.05 243.56,481.90 243.74,482.41 243.92,482.27 244.10,481.64 244.29,480.93 244.47,481.77 244.65,481.96 244.84,483.10 245.02,481.04 245.20,482.15 245.39,482.23 245.57,482.89 245.75,482.26 245.94,482.89 246.12,482.21 246.30,481.98 246.49,482.25 246.67,482.11 246.85,482.79 247.04,481.43 247.22,482.68 247.40,483.38 247.59,482.41 247.77,482.76 247.95,482.91 248.14,482.53 248.32,482.14 248.50,483.02 248.68,482.40 248.87,481.47 249.05,481.91 249.23,482.41 249.42,482.23 249.60,482.37 249.78,482.31 249.97,481.81 250.15,482.23 250.33,483.48 250.52,481.84 250.70,482.05 250.88,480.75 251.03,481.21 251.07,480.70 251.14,479.39 251.25,481.26 251.36,481.37 251.43,481.63 251.47,482.28 251.62,482.27 251.80,481.33 251.98,482.24 252.17,483.20 252.35,483.11 252.53,481.94 252.72,482.81 252.90,482.60 253.08,482.20 253.26,481.60 253.45,481.27 253.63,481.82 253.81,482.36 254.00,482.34 254.18,481.39 254.36,481.62 254.55,482.66 254.73,482.21 254.91,482.31 255.10,482.46 255.28,482.79 255.46,483.29 255.65,482.82 255.83,483.43 256.01,481.78 256.20,482.20 256.38,483.24 256.56,481.69 256.75,482.00 256.93,483.67 257.11,481.44 257.30,482.06 257.48,481.32 257.66,483.28 257.84,482.24 258.03,482.30 258.21,482.44 258.39,482.46 258.58,481.94 258.76,483.46 258.94,483.32 259.13,483.41 259.31,482.91 259.49,482.95 259.68,482.37 259.86,482.43 260.04,482.58 260.23,483.00 260.41,482.87 260.59,482.04 260.78,482.15 260.96,482.55 261.14,482.81 261.33,481.69 261.51,482.98 261.69,482.24 261.88,481.94 262.06,482.79 262.24,482.14 262.42,483.30 262.61,482.04 262.79,482.52 262.97,483.59 263.16,482.25 263.34,483.18 263.52,481.89 263.71,483.06 263.89,482.76 264.07,482.49 264.26,482.86 264.44,482.51 264.62,483.00 264.81,482.27 264.99,482.67 265.17,482.55 265.36,484.31 265.54,481.98 265.72,482.66 265.91,483.74 266.09,482.62 266.27,482.40 266.46,482.04 266.64,483.32 266.82,481.75 267.00,482.76 267.19,481.24 267.37,482.75 267.55,482.25 267.74,482.86 267.92,483.29 268.10,481.96 268.29,482.05 268.47,481.64 268.65,481.99 268.84,482.75 269.02,483.22 269.20,482.30 269.39,481.79 269.57,481.11 269.75,479.47 269.90,479.62 269.94,479.98 270.01,479.71 270.12,479.90 270.23,479.69 270.30,479.37 270.34,479.24 270.49,480.23 270.67,481.53 270.85,480.54 271.04,481.85 271.22,481.58 271.40,483.39 271.58,482.71 271.77,482.55 271.95,483.46 272.13,482.94 272.32,482.22 272.50,482.02 272.68,481.73 272.87,483.20 273.05,483.53 273.23,482.39 273.42,482.14 273.60,482.59 273.78,483.49 273.97,482.25 274.15,482.24 274.33,482.38 274.52,483.01 274.70,482.53 274.88,482.24 275.07,483.05 275.25,483.81 275.43,482.52 275.62,482.42 275.80,482.70 275.98,482.18 276.16,483.05 276.35,482.75 276.53,482.88 276.71,482.35 276.90,481.74 277.08,482.83 277.26,481.45 277.45,481.76 277.63,482.19 277.81,482.31 278.00,481.59 278.18,482.74 278.36,482.69 278.55,483.24 278.73,482.31 278.91,481.76 279.10,482.22 279.28,482.25 279.46,482.59 279.65,482.31 279.83,483.19 280.01,481.62 280.20,482.33 280.38,482.46 280.56,481.73 280.74,480.87 280.93,479.27 281.11,479.15 281.29,480.59 281.37,479.23 281.48,479.25 281.59,480.13 281.66,480.67 281.70,480.22 281.81,480.16 281.84,479.58 282.03,479.99 282.21,480.99 282.39,479.96 282.58,482.00 282.76,481.12 282.94,482.69 283.13,482.55 283.31,482.73 283.49,482.60 283.68,481.52 283.86,481.78 284.04,481.88 284.23,481.93 284.41,482.79 284.59,481.76 284.78,481.16 284.96,480.65 285.10,479.47 285.14,480.21 285.21,480.19 285.32,480.39 285.43,480.99 285.51,479.41 285.54,478.97 285.69,480.00 285.87,481.46 286.06,483.13 286.24,481.86 286.42,481.51 286.61,482.21 286.79,481.92 286.97,481.64 287.16,481.89 287.34,482.85 287.52,481.97 287.71,482.15 287.89,483.54 288.07,482.88 288.26,483.49 288.44,482.72 288.62,482.31 288.81,483.30 288.99,483.89 289.17,481.90 289.36,482.45 289.54,481.80 289.72,483.47 289.90,482.05 290.09,481.45 290.27,481.49 290.45,482.81 290.64,482.53 290.82,482.78 291.00,482.10 291.19,482.07 291.37,482.64 291.55,483.50 291.74,482.25 291.92,482.97 292.10,482.32 292.29,482.54 292.47,481.73 292.65,482.01 292.84,482.96 293.02,482.48 293.20,481.64 293.39,483.01 293.57,482.43 293.75,481.98 293.94,481.94 294.12,482.38 294.30,483.48 294.48,483.44 294.67,482.54 294.85,482.45 295.03,481.17 295.22,483.20 295.40,482.00 295.58,482.22 295.77,483.67 295.95,483.16 296.13,482.57 296.32,482.96 296.50,482.76 296.68,482.38 296.87,483.14 297.05,482.37 297.23,483.03 297.42,482.96 297.60,482.31 297.78,482.96 297.97,482.43 298.15,481.63 298.33,482.54 298.52,482.60 298.70,482.01 298.88,482.54 299.06,481.45 299.25,482.50 299.43,480.83 299.61,480.86 299.76,480.55 299.80,478.91 299.87,480.31 299.98,478.67 300.09,479.42 300.16,479.10 300.20,480.65 300.35,479.84 300.53,480.33 300.71,481.80 300.90,482.17 301.08,480.85"/>
<polyline fill="none" stroke="#e8141b" stroke-width="1.6" stroke-linejoin="round" points="44.60,498.80 44.78,498.73 44.97,498.66 45.15,498.58 45.33,498.51 45.52,498.44 45.70,498.37 45.88,498.30 46.07,498.23 46.25,498.16 46.43,498.09 46.62,498.02 46.80,497.95 46.98,497.88 47.16,497.81 47.35,497.74 47.53,497.67 47.71,497.60 47.90,497.53 48.08,497.46 48.26,497.39 48.45,497.32 48.63,497.25 48.81,497.18 49.00,497.11 49.18,497.04 49.36,496.97 49.55,496.90 49.73,496.83 49.91,496.76 50.10,496.69 50.28,496.62 50.46,496.55 50.65,496.48 50.83,496.41 51.01,496.34 51.20,496.27 51.38,496.20 51.56,496.12 51.74,496.05 51.93,495.98 52.11,495.91 52.29,495.84 52.48,495.77 52.66,495.70 52.84,495.63 53.03,495.56 53.21,495.49 53.39,495.42 53.58,495.35 53.76,495.28 53.94,495.21 54.13,495.14 54.31,495.07 54.49,495.00 54.68,494.93 54.86,494.86 55.04,494.79 55.23,494.72 55.41,494.65 55.59,494.58 55.78,494.51 55.96,494.44 56.14,494.37 56.32,494.30 56.51,494.23 56.69,494.16 56.87,494.09 57.06,494.02 57.24,493.95 57.42,493.87 57.61,493.80 57.79,493.73 57.97,493.66 58.16,493.59 58.34,493.52 58.52,493.45 58.71,493.38 58.89,493.31 59.07,493.24 59.26,493.17 59.44,493.10 59.62,493.03 59.81,492.96 59.99,492.89 60.17,492.83 60.36,492.77 60.54,492.70 60.72,492.64 60.90,492.58 61.09,492.52 61.27,492.45 61.45,492.39 61.64,492.33 61.82,492.27 62.00,492.21 62.19,492.14 62.37,492.08 62.55,492.02 62.74,491.96 62.92,491.89 63.10,491.83 63.29,491.77 63.47,491.71 63.65,491.65 63.84,491.58 64.02,491.52 64.20,491.46 64.39,491.40 64.57,491.33 64.75,491.27 64.94,491.21 65.12,491.15 65.30,491.08 65.48,491.02 65.67,490.96 65.85,490.90 66.03,490.83 66.22,490.77 66.40,490.71 66.58,490.64 66.77,490.58 66.95,490.52 67.13,490.46 67.32,490.39 67.50,490.33 67.68,490.27 67.87,490.20 68.05,490.14 68.23,490.08 68.42,490.01 68.60,489.95 68.78,489.89 68.97,489.82 69.15,489.76 69.33,489.69 69.52,489.63 69.70,489.56 69.88,489.50 70.06,489.43 70.25,489.37 70.43,489.30 70.61,489.24 70.80,489.17 70.98,489.10 71.16,489.03 71.35,488.96 71.53,488.89 71.71,488.82 71.90,488.75 72.08,488.67 72.26,488.60 72.45,488.52 72.63,488.43 72.81,488.34 73.00,488.25 73.18,488.16 73.36,488.05 73.55,487.94 73.73,487.80 73.91,487.63 74.10,487.42 74.28,487.08 74.46,486.49 74.64,485.36 74.83,483.34 75.01,480.22 75.19,476.35 75.27,474.85 75.38,473.11 75.49,472.42 75.56,472.70 75.60,473.04 75.71,474.72 75.74,475.43 75.93,479.22 76.11,482.43 76.29,484.55 76.48,485.72 76.66,486.28 76.84,486.54 77.03,486.66 77.21,486.72 77.39,486.75 77.58,486.76 77.76,486.76 77.94,486.74 78.13,486.72 78.31,486.69 78.49,486.66 78.68,486.62 78.86,486.58 79.04,486.54 79.22,486.49 79.41,486.45 79.59,486.40 79.77,486.35 79.96,486.30 80.14,486.25 80.32,486.20 80.51,486.15 80.69,486.10 80.87,486.05 81.06,486.00 81.24,485.95 81.42,485.92 81.61,485.89 81.79,485.86 81.97,485.82 82.16,485.79 82.34,485.76 82.52,485.73 82.71,485.70 82.89,485.67 83.07,485.64 83.26,485.61 83.44,485.58 83.62,485.54 83.80,485.51 83.99,485.48 84.17,485.45 84.35,485.42 84.54,485.39 84.72,485.35 84.90,485.32 85.09,485.29 85.27,485.26 85.45,485.23 85.64,485.19 85.82,485.16 86.00,485.13 86.19,485.10 86.37,485.06 86.55,485.03 86.74,485.00 86.92,484.97 87.10,484.93 87.29,484.90 87.47,484.87 87.65,484.84 87.84,484.81 88.02,484.77 88.20,484.74 88.38,484.71 88.57,484.68 88.75,484.64 88.93,484.61 89.12,484.58 89.30,484.55 89.48,484.51 89.67,484.48 89.85,484.45 90.03,484.42 90.22,484.38 90.40,484.35 90.58,484.32 90.77,484.29 90.95,484.25 91.13,484.22 91.32,484.19 91.50,484.16 91.68,484.12 91.87,484.09 92.05,484.06 92.23,484.03 92.42,483.99 92.60,483.96 92.78,483.93 92.96,483.89 93.15,483.86 93.33,483.83 93.51,483.80 93.70,483.76 93.88,483.73 94.06,483.70 94.25,483.67 94.43,483.63 94.61,483.60 94.80,483.57 94.98,483.54 95.16,483.50 95.35,483.47 95.53,483.44 95.71,483.40 95.90,483.37 96.08,483.34 96.26,483.31 96.45,483.27 96.63,483.24 96.81,483.21 97.00,483.18 97.18,483.14 97.36,483.11 97.54,483.08 97.73,483.04 97.91,483.01 98.09,482.98 98.28,482.96 98.46,482.94 98.64,482.92 98.83,482.90 99.01,482.89 99.19,482.87 99.38,482.85 99.56,482.83 99.74,482.81 99.93,482.79 100.11,482.77 100.29,482.76 100.48,482.74 100.66,482.72 100.84,482.70 101.03,482.68 101.21,482.66 101.39,482.64 101.58,482.62 101.76,482.61 101.94,482.59 102.12,482.57 102.31,482.55 102.49,482.53 102.67,482.51 102.86,482.49 103.04,482.47 103.22,482.46 103.41,482.44 103.59,482.42 103.77,482.40 103.96,482.38 104.14,482.36 104.32,482.34 104.51,482.32 104.69,482.30 104.87,482.29 105.06,482.27 105.24,482.25 105.42,482.23 105.61,482.21 105.79,482.19 105.97,482.17 106.16,482.15 106.34,482.13 106.52,482.11 106.70,482.09 106.89,482.08 107.07,482.06 107.25,482.04 107.44,482.02 107.62,482.00 107.80,481.98 107.99,481.96 108.17,481.94 108.35,481.92 108.54,481.90 108.72,481.88 108.90,481.86 109.09,481.84 109.27,481.82 109.45,481.80 109.64,481.78 109.82,481.76 110.00,481.74 110.19,481.72 110.37,481.70 110.55,481.68 110.74,481.65 110.92,481.63 111.10,481.61 111.28,481.59 111.47,481.57 111.65,481.55 111.83,481.52 112.02,481.50 112.20,481.48 112.38,481.45 112.57,481.43 112.75,481.40 112.93,481.38 113.12,481.35 113.30,481.33 113.48,481.30 113.67,481.27 113.85,481.24 114.03,481.21 114.22,481.18 114.40,481.14 114.58,481.11 114.77,481.07 114.95,481.03 115.13,480.99 115.32,480.94 115.50,480.88 115.68,480.82 115.86,480.76 116.05,480.68 116.23,480.60 116.41,480.51 116.60,480.40 116.78,480.26 116.96,480.08 117.15,479.84 117.33,479.51 117.51,479.00 117.70,478.11 117.88,476.26 118.06,472.40 118.25,465.28 118.43,454.61 118.58,445.09 118.61,442.97 118.69,439.50 118.80,437.31 118.91,439.49 118.98,442.96 119.02,445.09 119.16,454.59 119.35,465.26 119.53,472.38 119.71,476.22 119.90,478.06 120.08,478.96 120.26,479.45 120.44,479.78 120.63,480.01 120.81,480.19 120.99,480.32 121.18,480.42 121.36,480.51 121.54,480.57 121.73,480.63 121.91,480.67 122.09,480.71 122.28,480.74 122.46,480.77 122.64,480.79 122.83,480.81 123.01,480.82 123.19,480.84 123.38,480.85 123.56,480.86 123.74,480.86 123.93,480.87 124.11,480.88 124.29,480.88 124.48,480.88 124.66,480.89 124.84,480.89 125.02,480.89 125.21,480.89 125.39,480.89 125.57,480.89 125.76,480.89 125.94,480.89 126.12,480.89 126.31,480.88 126.49,480.88 126.67,480.88 126.86,480.88 127.04,480.87 127.22,480.87 127.41,480.87 127.59,480.86 127.77,480.86 127.96,480.85 128.14,480.85 128.32,480.84 128.51,480.84 128.69,480.83 128.87,480.82 129.06,480.82 129.24,480.81 129.42,480.80 129.60,480.80 129.79,480.79 129.97,480.78 130.15,480.77 130.34,480.76 130.52,480.75 130.70,480.74 130.89,480.73 131.07,480.71 131.25,480.70 131.44,480.69 131.62,480.67 131.80,480.66 131.99,480.64 132.17,480.62 132.35,480.60 132.54,480.58 132.72,480.56 132.90,480.53 133.09,480.51 133.27,480.48 133.45,480.44 133.64,480.41 133.82,480.37 134.00,480.32 134.18,480.27 134.37,480.22 134.55,480.16 134.73,480.08 134.92,480.00 135.10,479.91 135.28,479.80 135.47,479.68 135.65,479.53 135.83,479.36 136.02,479.14 136.20,478.89 136.38,478.57 136.57,478.18 136.75,477.67 136.93,477.01 137.12,476.12 137.30,474.86 137.48,472.81 137.67,468.90 137.85,460.67 138.03,444.08 138.22,415.63 138.40,377.32 138.47,361.88 138.58,343.41 138.69,336.21 138.76,339.49 138.80,343.41 138.91,361.87 138.95,369.44 139.13,408.50 139.31,439.36 139.50,458.12 139.68,467.66 139.86,472.17 140.05,474.46 140.23,475.83 140.41,476.77 140.60,477.45 140.78,477.97 140.96,478.38 141.15,478.69 141.33,478.95 141.51,479.15 141.70,479.31 141.88,479.45 142.06,479.55 142.25,479.64 142.43,479.70 142.61,479.75 142.80,479.78 142.98,479.79 143.16,479.77 143.34,479.73 143.53,479.62 143.71,479.41 143.89,478.92 144.08,477.87 144.26,475.90 144.44,472.93 144.59,470.28 144.63,469.69 144.70,468.73 144.81,468.13 144.92,468.75 144.99,469.72 145.03,470.32 145.18,473.00 145.36,476.00 145.54,478.01 145.73,479.10 145.91,479.63 146.09,479.89 146.28,480.04 146.46,480.14 146.64,480.21 146.83,480.26 147.01,480.31 147.19,480.34 147.38,480.37 147.56,480.40 147.74,480.42 147.92,480.43 148.11,480.45 148.29,480.46 148.47,480.47 148.66,480.48 148.84,480.49 149.02,480.49 149.21,480.50 149.39,480.50 149.57,480.51 149.76,480.51 149.94,480.51 150.12,480.52 150.31,480.52 150.49,480.52 150.67,480.52 150.86,480.53 151.04,480.53 151.22,480.53 151.41,480.53 151.59,480.53 151.77,480.53 151.96,480.53 152.14,480.53 152.32,480.53 152.50,480.53 152.69,480.53 152.87,480.53 153.05,480.52 153.24,480.52 153.42,480.52 153.60,480.52 153.79,480.52 153.97,480.52 154.15,480.52 154.34,480.52 154.52,480.51 154.70,480.52 154.89,480.52 155.07,480.52 155.25,480.52 155.44,480.52 155.62,480.52 155.80,480.53 155.99,480.53 156.17,480.53 156.35,480.53 156.54,480.53 156.72,480.53 156.90,480.53 157.08,480.53 157.27,480.53 157.45,480.54 157.63,480.54 157.82,480.54 158.00,480.54 158.18,480.54 158.37,480.54 158.55,480.54 158.73,480.54 158.92,480.54 159.10,480.54 159.28,480.54 159.47,480.54 159.65,480.54 159.83,480.53 160.02,480.53 160.20,480.53 160.38,480.53 160.57,480.53 160.75,480.52 160.93,480.52 161.12,480.52 161.30,480.52 161.48,480.51 161.66,480.51 161.85,480.50 162.03,480.49 162.21,480.49 162.40,480.48 162.58,480.47 162.76,480.46 162.95,480.45 163.13,480.43 163.31,480.42 163.50,480.40 163.68,480.38 163.86,480.35 164.05,480.32 164.23,480.29 164.41,480.25 164.60,480.20 164.78,480.13 164.96,480.05 165.15,479.96 165.33,479.83 165.51,479.67 165.70,479.44 165.88,479.12 166.06,478.58 166.24,477.53 166.43,475.38 166.61,471.25 166.79,464.50 166.98,455.78 167.05,452.35 167.16,448.30 167.16,448.30 167.27,446.74 167.34,447.45 167.38,448.30 167.49,452.35 167.53,454.03 167.71,462.86 167.89,470.12 168.08,474.75 168.26,477.23 168.44,478.44 168.63,479.05 168.81,479.41 168.99,479.65 169.18,479.83 169.36,479.96 169.54,480.07 169.73,480.15 169.91,480.22 170.09,480.28 170.28,480.32 170.46,480.36 170.64,480.39 170.82,480.42 171.01,480.45 171.19,480.47 171.37,480.49 171.56,480.50 171.74,480.52 171.92,480.53 172.11,480.54 172.29,480.56 172.47,480.57 172.66,480.57 172.84,480.58 173.02,480.59 173.21,480.60 173.39,480.60 173.57,480.61 173.76,480.62 173.94,480.62 174.12,480.63 174.31,480.63 174.49,480.63 174.67,480.64 174.86,480.64 175.04,480.65 175.22,480.65 175.40,480.65 175.59,480.66 175.77,480.66 175.95,480.66 176.14,480.66 176.32,480.67 176.50,480.67 176.69,480.67 176.87,480.67 177.05,480.68 177.24,480.68 177.42,480.68 177.60,480.68 177.79,480.69 177.97,480.69 178.15,480.69 178.34,480.69 178.52,480.69 178.70,480.70 178.89,480.70 179.07,480.70 179.25,480.70 179.44,480.70 179.62,480.70 179.80,480.71 179.98,480.71 180.17,480.71 180.35,480.71 180.53,480.71 180.72,480.71 180.90,480.72 181.08,480.72 181.27,480.72 181.45,480.72 181.63,480.72 181.82,480.72 182.00,480.72 182.18,480.73 182.37,480.73 182.55,480.73 182.73,480.73 182.92,480.73 183.10,480.73 183.28,480.73 183.47,480.74 183.65,480.74 183.83,480.74 184.02,480.74 184.20,480.74 184.38,480.74 184.56,480.74 184.75,480.74 184.93,480.75 185.11,480.75 185.30,480.75 185.48,480.75 185.66,480.75 185.85,480.75 186.03,480.75 186.21,480.75 186.40,480.75 186.58,480.76 186.76,480.76 186.95,480.76 187.13,480.76 187.31,480.76 187.50,480.76 187.68,480.76 187.86,480.76 188.05,480.76 188.23,480.77 188.41,480.77 188.60,480.77 188.78,480.77 188.96,480.77 189.14,480.77 189.33,480.77 189.51,480.77 189.69,480.77 189.88,480.77 190.06,480.78 190.24,480.78 190.43,480.78 190.61,480.79 190.79,480.79 190.98,480.80 191.16,480.80 191.34,480.81 191.53,480.81 191.71,480.82 191.89,480.82 192.08,480.83 192.26,480.83 192.44,480.83 192.63,480.84 192.81,480.84 192.99,480.85 193.18,480.85 193.36,480.86 193.54,480.86 193.72,480.86 193.91,480.87 194.09,480.87 194.27,480.88 194.46,480.88 194.64,480.89 194.82,480.89 195.01,480.89 195.19,480.90 195.37,480.90 195.56,480.91 195.74,480.91 195.92,480.92 196.11,480.92 196.29,480.92 196.47,480.93 196.66,480.93 196.84,480.94 197.02,480.94 197.21,480.94 197.39,480.95 197.57,480.95 197.76,480.95 197.94,480.96 198.12,480.96 198.30,480.96 198.49,480.97 198.67,480.97 198.85,480.97 199.04,480.98 199.22,480.98 199.40,480.98 199.59,480.99 199.77,480.99 199.95,480.99 200.14,480.99 200.32,480.99 200.50,481.00 200.69,481.00 200.87,481.00 201.05,481.00 201.24,481.00 201.42,481.00 201.60,480.99 201.79,480.99 201.97,480.99 202.15,480.98 202.34,480.97 202.52,480.97 202.70,480.95 202.88,480.94 203.07,480.92 203.25,480.90 203.43,480.86 203.62,480.82 203.80,480.76 203.98,480.67 204.17,480.54 204.35,480.28 204.53,479.77 204.72,478.82 204.90,477.23 205.08,475.03 205.27,472.69 205.27,472.69 205.38,471.65 205.45,471.30 205.49,471.26 205.60,471.65 205.63,471.94 205.71,472.69 205.82,474.08 206.00,476.44 206.18,478.30 206.37,479.49 206.55,480.16 206.73,480.51 206.92,480.69 207.10,480.80 207.28,480.88 207.46,480.93 207.65,480.98 207.83,481.01 208.01,481.04 208.20,481.06 208.38,481.08 208.56,481.10 208.75,481.12 208.93,481.13 209.11,481.14 209.30,481.15 209.48,481.16 209.66,481.17 209.85,481.18 210.03,481.18 210.21,481.19 210.40,481.20 210.58,481.20 210.76,481.20 210.95,481.21 211.13,481.21 211.31,481.22 211.50,481.22 211.68,481.22 211.86,481.22 212.04,481.22 212.23,481.22 212.41,481.22 212.59,481.22 212.78,481.22 212.96,481.22 213.14,481.22 213.33,481.21 213.51,481.21 213.69,481.20 213.88,481.19 214.06,481.18 214.24,481.17 214.43,481.16 214.61,481.14 214.79,481.12 214.98,481.10 215.16,481.07 215.34,481.04 215.53,481.00 215.71,480.95 215.89,480.88 216.08,480.81 216.26,480.71 216.44,480.59 216.62,480.43 216.81,480.22 216.99,479.92 217.17,479.45 217.36,478.59 217.54,476.89 217.72,473.57 217.91,467.82 218.09,459.52 218.27,450.39 218.38,446.28 218.46,444.89 218.49,444.71 218.60,446.29 218.64,447.43 218.71,450.40 218.82,455.80 219.01,464.79 219.19,471.63 219.37,475.85 219.56,478.10 219.74,479.23 219.92,479.83 220.11,480.19 220.29,480.44 220.47,480.63 220.66,480.77 220.84,480.89 221.02,480.98 221.20,481.06 221.39,481.12 221.57,481.18 221.75,481.22 221.94,481.26 222.12,481.29 222.30,481.33 222.49,481.35 222.67,481.38 222.85,481.40 223.04,481.42 223.22,481.43 223.40,481.45 223.59,481.47 223.77,481.48 223.95,481.49 224.14,481.50 224.32,481.52 224.50,481.53 224.69,481.54 224.87,481.55 225.05,481.55 225.24,481.56 225.42,481.57 225.60,481.58 225.78,481.59 225.97,481.59 226.15,481.60 226.33,481.61 226.52,481.61 226.70,481.62 226.88,481.63 227.07,481.63 227.25,481.64 227.43,481.64 227.62,481.65 227.80,481.65 227.98,481.66 228.17,481.66 228.35,481.67 228.53,481.67 228.72,481.68 228.90,481.68 229.08,481.68 229.27,481.69 229.45,481.69 229.63,481.69 229.82,481.70 230.00,481.70 230.18,481.70 230.36,481.70 230.55,481.70 230.73,481.70 230.91,481.71 231.10,481.71 231.28,481.71 231.46,481.71 231.65,481.70 231.83,481.70 232.01,481.70 232.20,481.70 232.38,481.70 232.56,481.69 232.75,481.69 232.93,481.69 233.11,481.68 233.30,481.68 233.48,481.67 233.66,481.66 233.85,481.65 234.03,481.64 234.21,481.63 234.40,481.62 234.58,481.60 234.76,481.58 234.94,481.56 235.13,481.54 235.31,481.51 235.49,481.48 235.68,481.44 235.86,481.39 236.04,481.34 236.23,481.27 236.41,481.19 236.59,481.10 236.78,480.98 236.96,480.83 237.14,480.64 237.33,480.39 237.51,480.06 237.69,479.57 237.88,478.77 238.06,477.27 238.24,474.34 238.43,468.96 238.61,460.31 238.79,448.81 238.94,439.42 238.98,437.41 239.05,434.21 239.16,432.24 239.27,434.21 239.34,437.42 239.38,439.43 239.52,448.82 239.71,460.33 239.89,468.99 240.07,474.37 240.26,477.31 240.44,478.81 240.62,479.62 240.81,480.12 240.99,480.46 241.17,480.71 241.36,480.91 241.54,481.06 241.72,481.19 241.91,481.29 242.09,481.38 242.27,481.45 242.46,481.51 242.64,481.56 242.82,481.61 243.01,481.65 243.19,481.68 243.37,481.72 243.56,481.74 243.74,481.77 243.92,481.79 244.10,481.81 244.29,481.83 244.47,481.85 244.65,481.86 244.84,481.88 245.02,481.89 245.20,481.90 245.39,481.91 245.57,481.92 245.75,481.93 245.94,481.94 246.12,481.95 246.30,481.96 246.49,481.97 246.67,481.97 246.85,481.98 247.04,481.99 247.22,481.99 247.40,482.00 247.59,482.00 247.77,482.01 247.95,482.01 248.14,482.02 248.32,482.02 248.50,482.02 248.68,482.02 248.87,482.02 249.05,482.02 249.23,482.02 249.42,482.01 249.60,482.00 249.78,481.98 249.97,481.95 250.15,481.88 250.33,481.75 250.52,481.53 250.70,481.22 250.88,480.84 251.03,480.55 251.07,480.49 251.14,480.39 251.25,480.34 251.36,480.40 251.43,480.50 251.47,480.56 251.62,480.85 251.80,481.24 251.98,481.57 252.17,481.79 252.35,481.93 252.53,482.01 252.72,482.05 252.90,482.08 253.08,482.10 253.26,482.11 253.45,482.13 253.63,482.14 253.81,482.15 254.00,482.16 254.18,482.16 254.36,482.17 254.55,482.18 254.73,482.18 254.91,482.19 255.10,482.19 255.28,482.20 255.46,482.20 255.65,482.21 255.83,482.21 256.01,482.22 256.20,482.22 256.38,482.22 256.56,482.23 256.75,482.23 256.93,482.24 257.11,482.24 257.30,482.24 257.48,482.25 257.66,482.25 257.84,482.26 258.03,482.26 258.21,482.26 258.39,482.27 258.58,482.27 258.76,482.27 258.94,482.28 259.13,482.28 259.31,482.28 259.49,482.29 259.68,482.29 259.86,482.29 260.04,482.30 260.23,482.30 260.41,482.30 260.59,482.31 260.78,482.31 260.96,482.31 261.14,482.32 261.33,482.32 261.51,482.32 261.69,482.33 261.88,482.33 262.06,482.33 262.24,482.34 262.42,482.34 262.61,482.34 262.79,482.34 262.97,482.35 263.16,482.35 263.34,482.35 263.52,482.35 263.71,482.36 263.89,482.36 264.07,482.36 264.26,482.36 264.44,482.37 264.62,482.37 264.81,482.37 264.99,482.37 265.17,482.37 265.36,482.38 265.54,482.38 265.72,482.38 265.91,482.38 266.09,482.38 266.27,482.38 266.46,482.38 266.64,482.38 266.82,482.37 267.00,482.37 267.19,482.37 267.37,482.36 267.55,482.35 267.74,482.34 267.92,482.33 268.10,482.31 268.29,482.29 268.47,482.26 268.65,482.20 268.84,482.11 269.02,481.93 269.20,481.61 269.39,481.09 269.57,480.33 269.75,479.40 269.90,478.70 269.94,478.56 270.01,478.33 270.12,478.19 270.23,478.32 270.30,478.55 270.34,478.70 270.49,479.40 270.67,480.33 270.85,481.09 271.04,481.62 271.22,481.94 271.40,482.12 271.58,482.21 271.77,482.27 271.95,482.31 272.13,482.33 272.32,482.35 272.50,482.37 272.68,482.38 272.87,482.39 273.05,482.39 273.23,482.40 273.42,482.41 273.60,482.41 273.78,482.41 273.97,482.41 274.15,482.42 274.33,482.42 274.52,482.42 274.70,482.42 274.88,482.42 275.07,482.42 275.25,482.42 275.43,482.41 275.62,482.41 275.80,482.41 275.98,482.41 276.16,482.41 276.35,482.40 276.53,482.40 276.71,482.40 276.90,482.39 277.08,482.39 277.26,482.38 277.45,482.37 277.63,482.37 277.81,482.36 278.00,482.35 278.18,482.34 278.36,482.32 278.55,482.31 278.73,482.29 278.91,482.27 279.10,482.24 279.28,482.21 279.46,482.17 279.65,482.12 279.83,482.05 280.01,481.95 280.20,481.78 280.38,481.50 280.56,480.98 280.74,480.08 280.93,478.67 281.11,476.75 281.29,474.63 281.37,473.87 281.48,473.02 281.59,472.70 281.66,472.84 281.70,473.01 281.81,473.86 281.84,474.23 282.03,476.31 282.21,478.29 282.39,479.80 282.58,480.79 282.76,481.36 282.94,481.67 283.13,481.84 283.31,481.93 283.49,481.98 283.68,482.00 283.86,481.99 284.04,481.94 284.23,481.82 284.41,481.57 284.59,481.15 284.78,480.53 284.96,479.77 285.10,479.19 285.14,479.07 285.21,478.88 285.32,478.77 285.43,478.89 285.51,479.09 285.54,479.21 285.69,479.80 285.87,480.58 286.06,481.22 286.24,481.67 286.42,481.94 286.61,482.09 286.79,482.18 286.97,482.23 287.16,482.26 287.34,482.28 287.52,482.30 287.71,482.32 287.89,482.33 288.07,482.34 288.26,482.35 288.44,482.35 288.62,482.36 288.81,482.37 288.99,482.37 289.17,482.37 289.36,482.38 289.54,482.38 289.72,482.38 289.90,482.38 290.09,482.39 290.27,482.39 290.45,482.39 290.64,482.39 290.82,482.39 291.00,482.39 291.19,482.39 291.37,482.39 291.55,482.39 291.74,482.39 291.92,482.39 292.10,482.39 292.29,482.39 292.47,482.39 292.65,482.39 292.84,482.39 293.02,482.39 293.20,482.39 293.39,482.39 293.57,482.39 293.75,482.39 293.94,482.39 294.12,482.39 294.30,482.39 294.48,482.39 294.67,482.39 294.85,482.39 295.03,482.39 295.22,482.38 295.40,482.38 295.58,482.38 295.77,482.38 295.95,482.38 296.13,482.37 296.32,482.37 296.50,482.37 296.68,482.36 296.87,482.36 297.05,482.35 297.23,482.35 297.42,482.34 297.60,482.33 297.78,482.32 297.97,482.31 298.15,482.29 298.33,482.26 298.52,482.22 298.70,482.15 298.88,482.03 299.06,481.80 299.25,481.43 299.43,480.90 299.61,480.26 299.76,479.77 299.80,479.67 299.87,479.51 299.98,479.41 300.09,479.51 300.16,479.67 300.20,479.77 300.35,480.26 300.53,480.90 300.71,481.43 300.90,481.80 301.08,482.02"/>
<g fill="#1a1a1a"><circle cx="74.30" cy="483.81" r="0.75"/><circle cx="74.39" cy="482.95" r="0.75"/><circle cx="74.48" cy="480.53" r="0.75"/><circle cx="74.58" cy="479.13" r="0.75"/><circle cx="74.67" cy="477.02" r="0.75"/><circle cx="74.76" cy="475.02" r="0.75"/><circle cx="74.85" cy="473.30" r="0.75"/><circle cx="74.94" cy="472.66" r="0.75"/><circle cx="76.03" cy="472.52" r="0.75"/><circle cx="76.12" cy="473.54" r="0.75"/><circle cx="76.22" cy="474.86" r="0.75"/><circle cx="76.31" cy="477.09" r="0.75"/><circle cx="76.40" cy="478.64" r="0.75"/><circle cx="76.49" cy="481.03" r="0.75"/><circle cx="76.58" cy="482.16" r="0.75"/><circle cx="76.67" cy="482.73" r="0.75"/><circle cx="117.33" cy="477.29" r="0.75"/><circle cx="117.43" cy="475.66" r="0.75"/><circle cx="117.52" cy="473.40" r="0.75"/><circle cx="117.61" cy="471.09" r="0.75"/><circle cx="117.70" cy="467.04" r="0.75"/><circle cx="117.79" cy="463.26" r="0.75"/><circle cx="117.88" cy="457.93" r="0.75"/><circle cx="117.98" cy="451.13" r="0.75"/><circle cx="118.07" cy="445.54" r="0.75"/><circle cx="118.16" cy="440.37" r="0.75"/><circle cx="118.25" cy="437.95" r="0.75"/><circle cx="119.34" cy="437.47" r="0.75"/><circle cx="119.43" cy="440.57" r="0.75"/><circle cx="119.53" cy="445.45" r="0.75"/><circle cx="119.62" cy="451.57" r="0.75"/><circle cx="119.71" cy="457.16" r="0.75"/><circle cx="119.80" cy="463.08" r="0.75"/><circle cx="119.89" cy="467.68" r="0.75"/><circle cx="119.98" cy="471.38" r="0.75"/><circle cx="120.07" cy="473.25" r="0.75"/><circle cx="120.17" cy="475.72" r="0.75"/><circle cx="120.26" cy="477.13" r="0.75"/><circle cx="136.31" cy="477.32" r="0.75"/><circle cx="136.50" cy="476.45" r="0.75"/><circle cx="136.59" cy="476.44" r="0.75"/><circle cx="136.68" cy="475.44" r="0.75"/><circle cx="136.77" cy="475.06" r="0.75"/><circle cx="136.86" cy="474.85" r="0.75"/><circle cx="136.95" cy="473.58" r="0.75"/><circle cx="137.05" cy="471.41" r="0.75"/><circle cx="137.14" cy="469.73" r="0.75"/><circle cx="137.23" cy="466.81" r="0.75"/><circle cx="137.32" cy="462.25" r="0.75"/><circle cx="137.41" cy="456.17" r="0.75"/><circle cx="137.50" cy="447.43" r="0.75"/><circle cx="137.60" cy="435.52" r="0.75"/><circle cx="137.69" cy="420.63" r="0.75"/><circle cx="137.78" cy="402.49" r="0.75"/><circle cx="137.87" cy="383.31" r="0.75"/><circle cx="137.96" cy="363.17" r="0.75"/><circle cx="138.05" cy="346.67" r="0.75"/><circle cx="138.15" cy="337.00" r="0.75"/><circle cx="139.24" cy="337.19" r="0.75"/><circle cx="139.33" cy="347.16" r="0.75"/><circle cx="139.42" cy="363.68" r="0.75"/><circle cx="139.51" cy="383.35" r="0.75"/><circle cx="139.60" cy="403.14" r="0.75"/><circle cx="139.70" cy="420.67" r="0.75"/><circle cx="139.79" cy="435.71" r="0.75"/><circle cx="139.88" cy="446.75" r="0.75"/><circle cx="139.97" cy="455.84" r="0.75"/><circle cx="140.06" cy="462.42" r="0.75"/><circle cx="140.15" cy="467.22" r="0.75"/><circle cx="140.24" cy="469.65" r="0.75"/><circle cx="140.34" cy="471.81" r="0.75"/><circle cx="140.43" cy="473.46" r="0.75"/><circle cx="140.52" cy="474.54" r="0.75"/><circle cx="140.61" cy="475.68" r="0.75"/><circle cx="140.70" cy="475.49" r="0.75"/><circle cx="140.79" cy="476.21" r="0.75"/><circle cx="140.89" cy="475.88" r="0.75"/><circle cx="140.98" cy="477.04" r="0.75"/><circle cx="141.16" cy="477.22" r="0.75"/><circle cx="143.62" cy="476.92" r="0.75"/><circle cx="143.72" cy="476.57" r="0.75"/><circle cx="143.81" cy="475.45" r="0.75"/><circle cx="143.90" cy="473.90" r="0.75"/><circle cx="143.99" cy="472.65" r="0.75"/><circle cx="144.08" cy="470.17" r="0.75"/><circle cx="144.17" cy="469.37" r="0.75"/><circle cx="144.26" cy="467.91" r="0.75"/><circle cx="145.36" cy="468.75" r="0.75"/><circle cx="145.45" cy="469.45" r="0.75"/><circle cx="145.54" cy="470.40" r="0.75"/><circle cx="145.63" cy="472.38" r="0.75"/><circle cx="145.72" cy="473.59" r="0.75"/><circle cx="145.81" cy="475.33" r="0.75"/><circle cx="145.91" cy="476.96" r="0.75"/><circle cx="165.90" cy="475.51" r="0.75"/><circle cx="165.99" cy="474.50" r="0.75"/><circle cx="166.08" cy="471.82" r="0.75"/><circle cx="166.18" cy="469.14" r="0.75"/><circle cx="166.27" cy="465.61" r="0.75"/><circle cx="166.36" cy="461.29" r="0.75"/><circle cx="166.45" cy="457.13" r="0.75"/><circle cx="166.54" cy="452.42" r="0.75"/><circle cx="166.63" cy="448.86" r="0.75"/><circle cx="166.72" cy="446.98" r="0.75"/><circle cx="167.82" cy="447.19" r="0.75"/><circle cx="167.91" cy="449.35" r="0.75"/><circle cx="168.00" cy="452.91" r="0.75"/><circle cx="168.09" cy="457.19" r="0.75"/><circle cx="168.18" cy="461.59" r="0.75"/><circle cx="168.27" cy="464.80" r="0.75"/><circle cx="168.37" cy="469.01" r="0.75"/><circle cx="168.46" cy="471.81" r="0.75"/><circle cx="168.55" cy="474.47" r="0.75"/><circle cx="168.64" cy="476.03" r="0.75"/><circle cx="168.73" cy="477.05" r="0.75"/><circle cx="204.48" cy="476.15" r="0.75"/><circle cx="204.57" cy="475.10" r="0.75"/><circle cx="204.67" cy="473.92" r="0.75"/><circle cx="204.76" cy="473.50" r="0.75"/><circle cx="204.85" cy="471.97" r="0.75"/><circle cx="204.94" cy="471.55" r="0.75"/><circle cx="206.03" cy="471.75" r="0.75"/><circle cx="206.12" cy="472.14" r="0.75"/><circle cx="206.22" cy="472.59" r="0.75"/><circle cx="206.31" cy="473.80" r="0.75"/><circle cx="206.40" cy="475.18" r="0.75"/><circle cx="206.49" cy="476.17" r="0.75"/><circle cx="206.58" cy="477.53" r="0.75"/><circle cx="216.94" cy="477.43" r="0.75"/><circle cx="217.03" cy="476.41" r="0.75"/><circle cx="217.12" cy="475.43" r="0.75"/><circle cx="217.21" cy="473.89" r="0.75"/><circle cx="217.31" cy="471.49" r="0.75"/><circle cx="217.40" cy="468.41" r="0.75"/><circle cx="217.49" cy="464.32" r="0.75"/><circle cx="217.58" cy="459.99" r="0.75"/><circle cx="217.67" cy="455.12" r="0.75"/><circle cx="217.76" cy="451.41" r="0.75"/><circle cx="217.86" cy="446.43" r="0.75"/><circle cx="217.95" cy="444.32" r="0.75"/><circle cx="219.04" cy="445.00" r="0.75"/><circle cx="219.13" cy="446.92" r="0.75"/><circle cx="219.22" cy="450.68" r="0.75"/><circle cx="219.31" cy="455.25" r="0.75"/><circle cx="219.41" cy="460.06" r="0.75"/><circle cx="219.50" cy="464.41" r="0.75"/><circle cx="219.59" cy="468.44" r="0.75"/><circle cx="219.68" cy="471.30" r="0.75"/><circle cx="219.77" cy="473.83" r="0.75"/><circle cx="219.86" cy="475.60" r="0.75"/><circle cx="219.96" cy="477.31" r="0.75"/><circle cx="220.05" cy="478.01" r="0.75"/><circle cx="237.42" cy="478.19" r="0.75"/><circle cx="237.51" cy="477.92" r="0.75"/><circle cx="237.61" cy="476.54" r="0.75"/><circle cx="237.70" cy="475.43" r="0.75"/><circle cx="237.79" cy="473.05" r="0.75"/><circle cx="237.88" cy="470.07" r="0.75"/><circle cx="237.97" cy="467.24" r="0.75"/><circle cx="238.06" cy="462.65" r="0.75"/><circle cx="238.15" cy="457.91" r="0.75"/><circle cx="238.25" cy="451.55" r="0.75"/><circle cx="238.34" cy="445.40" r="0.75"/><circle cx="238.43" cy="439.95" r="0.75"/><circle cx="238.52" cy="435.60" r="0.75"/><circle cx="238.61" cy="432.47" r="0.75"/><circle cx="239.70" cy="432.25" r="0.75"/><circle cx="239.80" cy="434.94" r="0.75"/><circle cx="239.89" cy="439.72" r="0.75"/><circle cx="239.98" cy="446.31" r="0.75"/><circle cx="240.07" cy="452.06" r="0.75"/><circle cx="240.16" cy="457.23" r="0.75"/><circle cx="240.25" cy="463.17" r="0.75"/><circle cx="240.35" cy="466.80" r="0.75"/><circle cx="240.44" cy="470.06" r="0.75"/><circle cx="240.53" cy="473.07" r="0.75"/><circle cx="240.62" cy="474.96" r="0.75"/><circle cx="240.71" cy="476.84" r="0.75"/><circle cx="240.80" cy="478.15" r="0.75"/><circle cx="280.49" cy="478.61" r="0.75"/><circle cx="280.58" cy="476.63" r="0.75"/><circle cx="280.68" cy="475.96" r="0.75"/><circle cx="280.77" cy="475.21" r="0.75"/><circle cx="280.86" cy="473.94" r="0.75"/><circle cx="280.95" cy="472.92" r="0.75"/><circle cx="281.04" cy="473.53" r="0.75"/><circle cx="282.13" cy="472.43" r="0.75"/><circle cx="282.22" cy="472.96" r="0.75"/><circle cx="282.32" cy="474.57" r="0.75"/><circle cx="282.41" cy="474.70" r="0.75"/><circle cx="282.50" cy="476.52" r="0.75"/><circle cx="282.59" cy="476.71" r="0.75"/><circle cx="282.68" cy="477.90" r="0.75"/><circle cx="282.77" cy="478.21" r="0.75"/></g>
<polyline fill="none" stroke="#1a1aff" stroke-width="1.2" points="44.60,507.14 44.78,507.58 44.97,507.55 45.15,507.51 45.33,507.31 45.52,507.54 45.70,507.77 45.88,507.42 46.07,507.30 46.25,507.81 46.43,507.66 46.62,507.60 46.80,507.62 46.98,507.13 47.16,507.15 47.35,507.48 47.53,506.93 47.71,507.02 47.90,507.13 48.08,507.08 48.26,506.84 48.45,507.18 48.63,506.78 48.81,507.01 49.00,507.07 49.18,506.90 49.36,506.88 49.55,506.27 49.73,506.18 49.91,506.35 50.10,506.63 50.28,506.89 50.46,506.03 50.65,506.45 50.83,506.06 51.01,506.05 51.20,506.14 51.38,506.39 51.56,506.20 51.74,506.45 51.93,505.75 52.11,506.27 52.29,506.24 52.48,505.94 52.66,506.02 52.84,505.66 53.03,505.46 53.21,505.62 53.39,505.51 53.58,506.52 53.76,505.47 53.94,506.06 54.13,505.59 54.31,505.57 54.49,505.66 54.68,505.16 54.86,505.62 55.04,505.42 55.23,504.81 55.41,505.40 55.59,505.34 55.78,505.27 55.96,505.56 56.14,504.92 56.32,505.15 56.51,505.18 56.69,504.64 56.87,505.23 57.06,504.39 57.24,504.39 57.42,504.89 57.61,504.37 57.79,504.62 57.97,504.11 58.16,504.58 58.34,504.18 58.52,504.58 58.71,503.97 58.89,504.52 59.07,504.26 59.26,504.32 59.44,504.24 59.62,504.25 59.81,503.77 59.99,503.36 60.17,504.09 60.36,503.76 60.54,503.86 60.72,504.08 60.90,503.31 61.09,503.63 61.27,503.64 61.45,503.46 61.64,503.83 61.82,503.65 62.00,503.40 62.19,503.30 62.37,503.80 62.55,503.31 62.74,503.64 62.92,503.56 63.10,502.81 63.29,503.01 63.47,503.29 63.65,503.35 63.84,503.44 64.02,503.40 64.20,503.43 64.39,502.96 64.57,502.97 64.75,503.22 64.94,502.82 65.12,503.22 65.30,502.38 65.48,503.01 65.67,502.72 65.85,502.13 66.03,502.98 66.22,502.73 66.40,502.60 66.58,502.23 66.77,502.37 66.95,502.92 67.13,502.17 67.32,501.33 67.50,502.07 67.68,501.93 67.87,502.20 68.05,502.08 68.23,501.88 68.42,501.86 68.60,502.38 68.78,501.59 68.97,502.57 69.15,501.77 69.33,501.57 69.52,502.09 69.70,501.98 69.88,501.45 70.06,501.94 70.25,501.12 70.43,501.35 70.61,501.93 70.80,501.47 70.98,501.11 71.16,501.61 71.35,501.69 71.53,501.36 71.71,500.78 71.90,501.18 72.08,501.36 72.26,501.42 72.45,501.71 72.63,501.03 72.81,500.92 73.00,501.01 73.18,501.34 73.36,500.65 73.55,501.28 73.73,500.02 73.91,501.44 74.10,501.01 74.28,501.38 74.46,501.55 74.64,501.25 74.83,502.15 75.01,503.20 75.19,504.43 75.27,504.38 75.38,504.80 75.49,504.68 75.56,505.95 75.60,505.04 75.71,504.60 75.74,504.03 75.93,503.66 76.11,502.22 76.29,502.18 76.48,501.70 76.66,501.34 76.84,501.53 77.03,500.97 77.21,501.22 77.39,501.15 77.58,500.94 77.76,501.34 77.94,501.29 78.13,501.77 78.31,500.34 78.49,501.15 78.68,501.09 78.86,501.23 79.04,501.50 79.22,501.50 79.41,501.40 79.59,501.25 79.77,501.55 79.96,501.51 80.14,500.86 80.32,501.34 80.51,501.01 80.69,501.08 80.87,501.48 81.06,501.46 81.24,501.48 81.42,501.19 81.61,501.40 81.79,501.19 81.97,501.59 82.16,501.69 82.34,502.01 82.52,501.87 82.71,501.26 82.89,501.37 83.07,501.23 83.26,501.61 83.44,502.12 83.62,501.74 83.80,500.88 83.99,501.17 84.17,501.16 84.35,501.71 84.54,501.56 84.72,501.66 84.90,502.11 85.09,501.33 85.27,501.33 85.45,502.18 85.64,501.70 85.82,501.37 86.00,501.00 86.19,501.16 86.37,500.89 86.55,501.65 86.74,501.65 86.92,501.94 87.10,501.61 87.29,501.45 87.47,501.44 87.65,502.24 87.84,501.15 88.02,501.73 88.20,501.70 88.38,501.88 88.57,501.58 88.75,501.86 88.93,501.96 89.12,501.67 89.30,501.59 89.48,501.68 89.67,501.45 89.85,501.68 90.03,501.66 90.22,501.82 90.40,502.16 90.58,502.16 90.77,501.64 90.95,501.96 91.13,501.88 91.32,502.02 91.50,501.81 91.68,501.89 91.87,501.67 92.05,501.58 92.23,502.09 92.42,502.22 92.60,502.04 92.78,501.97 92.96,501.93 93.15,501.72 93.33,501.33 93.51,502.07 93.70,501.93 93.88,501.71 94.06,501.60 94.25,502.28 94.43,501.36 94.61,502.43 94.80,502.10 94.98,502.63 95.16,501.71 95.35,501.92 95.53,501.79 95.71,501.99 95.90,501.89 96.08,501.73 96.26,502.28 96.45,501.73 96.63,501.82 96.81,502.15 97.00,501.83 97.18,501.86 97.36,502.11 97.54,501.90 97.73,501.64 97.91,501.99 98.09,501.96 98.28,502.54 98.46,501.71 98.64,502.33 98.83,501.81 99.01,501.95 99.19,501.96 99.38,502.15 99.56,502.33 99.74,502.61 99.93,501.90 100.11,502.49 100.29,502.40 100.48,502.35 100.66,501.88 100.84,502.39 101.03,502.09 101.21,502.24 101.39,502.06 101.58,502.34 101.76,502.48 101.94,502.50 102.12,502.10 102.31,502.47 102.49,502.61 102.67,501.90 102.86,502.63 103.04,501.79 103.22,502.36 103.41,502.38 103.59,502.66 103.77,502.30 103.96,502.08 104.14,501.99 104.32,501.86 104.51,502.47 104.69,502.18 104.87,502.04 105.06,502.42 105.24,502.04 105.42,502.14 105.61,502.14 105.79,502.78 105.97,502.73 106.16,502.25 106.34,501.83 106.52,502.40 106.70,502.34 106.89,502.43 107.07,502.50 107.25,502.24 107.44,502.62 107.62,502.60 107.80,502.42 107.99,502.24 108.17,502.22 108.35,502.58 108.54,502.05 108.72,502.34 108.90,502.17 109.09,501.98 109.27,502.59 109.45,502.40 109.64,502.43 109.82,502.69 110.00,501.98 110.19,502.42 110.37,502.53 110.55,502.70 110.74,502.13 110.92,502.68 111.10,502.53 111.28,502.88 111.47,502.82 111.65,502.65 111.83,503.14 112.02,502.50 112.20,502.38 112.38,502.41 112.57,502.24 112.75,502.52 112.93,501.97 113.12,502.51 113.30,502.67 113.48,502.85 113.67,502.45 113.85,502.98 114.03,502.37 114.22,502.53 114.40,502.02 114.58,502.36 114.77,502.36 114.95,503.04 115.13,502.76 115.32,502.29 115.50,502.78 115.68,502.77 115.86,502.56 116.05,502.64 116.23,502.55 116.41,502.49 116.60,502.14 116.78,502.64 116.96,503.05 117.15,503.09 117.33,502.60 117.51,502.48 117.70,502.68 117.88,503.12 118.06,503.23 118.25,503.46 118.43,504.42 118.58,504.79 118.61,505.11 118.69,505.00 118.80,504.79 118.91,505.15 118.98,505.19 119.02,504.54 119.16,504.31 119.35,503.92 119.53,503.06 119.71,502.72 119.90,503.39 120.08,503.01 120.26,503.07 120.44,502.49 120.63,503.25 120.81,502.30 120.99,502.63 121.18,503.01 121.36,503.18 121.54,502.53 121.73,502.61 121.91,502.87 122.09,502.25 122.28,503.01 122.46,502.99 122.64,502.70 122.83,502.99 123.01,503.07 123.19,502.94 123.38,503.00 123.56,503.30 123.74,502.72 123.93,502.91 124.11,502.72 124.29,503.18 124.48,502.76 124.66,503.02 124.84,502.93 125.02,502.91 125.21,503.40 125.39,502.88 125.57,503.32 125.76,503.16 125.94,503.30 126.12,502.88 126.31,503.20 126.49,503.15 126.67,502.76 126.86,503.02 127.04,502.91 127.22,502.94 127.41,503.34 127.59,502.76 127.77,502.48 127.96,502.47 128.14,502.85 128.32,502.80 128.51,502.99 128.69,503.16 128.87,503.51 129.06,503.09 129.24,503.14 129.42,502.80 129.60,503.19 129.79,503.42 129.97,503.42 130.15,502.47 130.34,503.30 130.52,503.50 130.70,503.29 130.89,502.62 131.07,502.97 131.25,503.23 131.44,503.19 131.62,502.84 131.80,502.82 131.99,503.36 132.17,502.70 132.35,503.51 132.54,503.11 132.72,503.19 132.90,502.72 133.09,502.94 133.27,503.32 133.45,502.70 133.64,503.73 133.82,502.73 134.00,502.79 134.18,503.16 134.37,503.29 134.55,503.37 134.73,503.05 134.92,503.11 135.10,503.10 135.28,503.01 135.47,502.44 135.65,503.46 135.83,503.26 136.02,503.24 136.20,503.02 136.38,503.28 136.57,503.21 136.75,503.19 136.93,503.54 137.12,502.73 137.30,503.29 137.48,502.87 137.67,502.93 137.85,503.01 138.03,501.28 138.22,499.93 138.40,497.93 138.47,497.81 138.58,496.89 138.69,497.20 138.76,498.75 138.80,499.11 138.91,501.40 138.95,502.63 139.13,505.33 139.31,505.91 139.50,504.73 139.68,503.77 139.86,503.19 140.05,503.60 140.23,503.95 140.41,503.20 140.60,503.86 140.78,502.72 140.96,503.74 141.15,503.24 141.33,503.38 141.51,503.25 141.70,503.17 141.88,502.99 142.06,503.25 142.25,503.74 142.43,503.70 142.61,503.27 142.80,503.23 142.98,503.18 143.16,503.04 143.34,503.92 143.53,503.60 143.71,503.46 143.89,503.33 144.08,503.29 144.26,504.17 144.44,504.29 144.59,504.01 144.63,504.61 144.70,504.07 144.81,504.62 144.92,504.12 144.99,504.22 145.03,504.44 145.18,504.21 145.36,504.11 145.54,503.38 145.73,503.98 145.91,503.87 146.09,503.47 146.28,503.61 146.46,503.26 146.64,503.44 146.83,503.11 147.01,503.52 147.19,503.56 147.38,503.89 147.56,503.78 147.74,503.75 147.92,503.42 148.11,503.46 148.29,503.43 148.47,503.60 148.66,502.98 148.84,503.77 149.02,503.10 149.21,503.41 149.39,503.57 149.57,503.42 149.76,504.05 149.94,503.55 150.12,504.03 150.31,503.92 150.49,503.45 150.67,503.71 150.86,503.97 151.04,503.51 151.22,503.64 151.41,503.45 151.59,503.64 151.77,503.52 151.96,503.65 152.14,503.92 152.32,504.04 152.50,503.68 152.69,503.71 152.87,503.90 153.05,503.58 153.24,503.36 153.42,503.99 153.60,503.41 153.79,503.95 153.97,503.41 154.15,504.22 154.34,503.39 154.52,503.94 154.70,504.14 154.89,503.43 155.07,504.14 155.25,503.48 155.44,503.22 155.62,503.94 155.80,503.94 155.99,503.68 156.17,503.02 156.35,503.73 156.54,503.67 156.72,503.65 156.90,503.68 157.08,503.25 157.27,503.61 157.45,504.30 157.63,504.23 157.82,503.69 158.00,503.59 158.18,503.91 158.37,504.11 158.55,504.02 158.73,503.48 158.92,503.87 159.10,503.87 159.28,504.24 159.47,504.18 159.65,503.99 159.83,504.20 160.02,503.74 160.20,504.30 160.38,503.74 160.57,503.98 160.75,504.13 160.93,503.61 161.12,503.68 161.30,503.38 161.48,503.94 161.66,503.88 161.85,503.81 162.03,504.05 162.21,503.30 162.40,503.91 162.58,503.95 162.76,503.85 162.95,504.16 163.13,504.44 163.31,503.81 163.50,503.67 163.68,503.78 163.86,503.98 164.05,504.13 164.23,503.72 164.41,504.26 164.60,503.68 164.78,504.22 164.96,504.11 165.15,504.12 165.33,504.62 165.51,503.92 165.70,503.96 165.88,504.15 166.06,504.28 166.24,503.68 166.43,504.25 166.61,504.17 166.79,504.92 166.98,505.56 167.05,505.34 167.16,505.46 167.16,505.54 167.27,504.70 167.34,505.75 167.38,505.65 167.49,505.38 167.53,505.15 167.71,504.64 167.89,504.43 168.08,504.59 168.26,504.10 168.44,504.48 168.63,503.35 168.81,503.96 168.99,504.17 169.18,504.10 169.36,503.63 169.54,503.92 169.73,504.47 169.91,503.75 170.09,503.84 170.28,503.81 170.46,503.98 170.64,504.33 170.82,504.32 171.01,503.57 171.19,504.58 171.37,503.99 171.56,504.00 171.74,504.65 171.92,504.15 172.11,503.82 172.29,504.00 172.47,503.98 172.66,503.90 172.84,504.10 173.02,504.46 173.21,504.31 173.39,503.82 173.57,505.02 173.76,503.94 173.94,504.26 174.12,504.24 174.31,504.46 174.49,504.15 174.67,504.38 174.86,504.86 175.04,504.29 175.22,503.95 175.40,504.36 175.59,504.04 175.77,504.17 175.95,504.34 176.14,504.39 176.32,504.21 176.50,504.54 176.69,504.25 176.87,503.93 177.05,504.57 177.24,504.22 177.42,504.67 177.60,504.14 177.79,504.50 177.97,504.43 178.15,503.57 178.34,503.92 178.52,504.03 178.70,504.77 178.89,503.82 179.07,504.63 179.25,504.69 179.44,504.52 179.62,504.58 179.80,504.25 179.98,504.39 180.17,504.46 180.35,504.53 180.53,504.61 180.72,504.36 180.90,504.22 181.08,504.26 181.27,504.55 181.45,503.96 181.63,504.08 181.82,504.33 182.00,504.29 182.18,504.38 182.37,503.69 182.55,504.37 182.73,504.40 182.92,504.70 183.10,503.91 183.28,504.40 183.47,504.63 183.65,504.64 183.83,504.84 184.02,504.81 184.20,504.21 184.38,504.70 184.56,504.42 184.75,504.29 184.93,504.97 185.11,504.35 185.30,504.29 185.48,504.43 185.66,504.30 185.85,504.85 186.03,504.67 186.21,504.97 186.40,504.69 186.58,504.40 186.76,504.88 186.95,504.40 187.13,504.46 187.31,504.55 187.50,504.61 187.68,504.95 187.86,504.44 188.05,504.72 188.23,504.61 188.41,504.26 188.60,504.31 188.78,504.57 188.96,504.76 189.14,504.74 189.33,504.79 189.51,504.67 189.69,504.53 189.88,504.79 190.06,504.38 190.24,504.29 190.43,504.58 190.61,504.27 190.79,504.54 190.98,504.48 191.16,504.54 191.34,504.68 191.53,504.46 191.71,504.57 191.89,504.20 192.08,504.73 192.26,504.43 192.44,504.80 192.63,503.86 192.81,504.45 192.99,504.75 193.18,503.97 193.36,504.57 193.54,504.70 193.72,504.70 193.91,504.23 194.09,504.73 194.27,504.70 194.46,504.38 194.64,504.87 194.82,504.64 195.01,504.66 195.19,504.52 195.37,504.80 195.56,504.67 195.74,504.97 195.92,504.77 196.11,504.46 196.29,504.57 196.47,504.90 196.66,504.52 196.84,504.74 197.02,504.78 197.21,504.57 197.39,503.95 197.57,504.66 197.76,504.68 197.94,504.65 198.12,504.39 198.30,504.96 198.49,504.57 198.67,504.42 198.85,504.39 199.04,504.70 199.22,504.28 199.40,504.30 199.59,505.17 199.77,504.97 199.95,504.89 200.14,504.98 200.32,504.76 200.50,504.09 200.69,504.93 200.87,504.94 201.05,504.72 201.24,504.00 201.42,504.93 201.60,504.96 201.79,504.42 201.97,504.60 202.15,504.79 202.34,504.53 202.52,504.87 202.70,504.58 202.88,504.75 203.07,504.57 203.25,504.12 203.43,504.25 203.62,505.46 203.80,504.62 203.98,504.92 204.17,504.87 204.35,505.04 204.53,504.74 204.72,504.49 204.90,504.85 205.08,504.55 205.27,505.32 205.27,505.64 205.38,504.85 205.45,505.57 205.49,505.76 205.60,505.86 205.63,505.18 205.71,505.18 205.82,504.67 206.00,504.63 206.18,504.87 206.37,505.19 206.55,504.19 206.73,504.91 206.92,504.62 207.10,504.35 207.28,505.13 207.46,503.76 207.65,504.47 207.83,504.55 208.01,505.11 208.20,505.01 208.38,505.14 208.56,504.52 208.75,504.76 208.93,504.87 209.11,504.62 209.30,504.57 209.48,504.41 209.66,504.35 209.85,504.10 210.03,505.03 210.21,504.33 210.40,503.85 210.58,504.53 210.76,504.44 210.95,504.50 211.13,504.97 211.31,504.41 211.50,504.36 211.68,504.22 211.86,504.43 212.04,504.31 212.23,504.49 212.41,505.34 212.59,504.54 212.78,504.17 212.96,504.99 213.14,504.67 213.33,504.66 213.51,504.62 213.69,504.65 213.88,504.61 214.06,504.82 214.24,504.70 214.43,504.80 214.61,504.25 214.79,504.40 214.98,504.18 215.16,504.67 215.34,504.63 215.53,504.25 215.71,504.56 215.89,505.15 216.08,504.74 216.26,504.05 216.44,504.35 216.62,504.56 216.81,504.36 216.99,504.49 217.17,504.73 217.36,504.54 217.54,504.32 217.72,505.35 217.91,506.09 218.09,507.60 218.27,508.88 218.38,509.23 218.46,509.46 218.49,509.75 218.60,509.32 218.64,508.68 218.71,509.37 218.82,507.85 219.01,506.44 219.19,505.60 219.37,504.06 219.56,504.86 219.74,504.14 219.92,504.53 220.11,504.19 220.29,504.42 220.47,504.36 220.66,504.32 220.84,503.79 221.02,503.89 221.20,504.31 221.39,504.73 221.57,504.15 221.75,504.47 221.94,504.36 222.12,504.45 222.30,504.59 222.49,503.86 222.67,504.38 222.85,504.24 223.04,504.20 223.22,504.04 223.40,504.06 223.59,503.99 223.77,503.96 223.95,505.02 224.14,504.78 224.32,504.28 224.50,504.49 224.69,503.99 224.87,503.46 225.05,503.74 225.24,504.31 225.42,504.68 225.60,504.25 225.78,503.97 225.97,504.19 226.15,503.96 226.33,503.84 226.52,504.18 226.70,504.13 226.88,504.01 227.07,503.98 227.25,503.97 227.43,504.31 227.62,504.64 227.80,504.17 227.98,504.88 228.17,503.76 228.35,504.31 228.53,503.89 228.72,504.17 228.90,504.25 229.08,504.38 229.27,504.54 229.45,504.05 229.63,503.85 229.82,504.15 230.00,504.29 230.18,504.00 230.36,504.46 230.55,504.69 230.73,503.78 230.91,504.30 231.10,504.49 231.28,503.63 231.46,504.25 231.65,504.12 231.83,503.77 232.01,504.56 232.20,504.24 232.38,504.04 232.56,504.30 232.75,504.36 232.93,504.39 233.11,504.34 233.30,504.28 233.48,503.82 233.66,504.04 233.85,504.19 234.03,503.34 234.21,504.77 234.40,504.04 234.58,503.84 234.76,503.61 234.94,504.22 235.13,504.15 235.31,503.97 235.49,504.01 235.68,503.87 235.86,503.91 236.04,504.10 236.23,503.94 236.41,504.32 236.59,504.08 236.78,504.16 236.96,504.24 237.14,504.49 237.33,504.29 237.51,504.18 237.69,504.06 237.88,503.85 238.06,503.93 238.24,504.05 238.43,503.49 238.61,502.51 238.79,501.14 238.94,500.23 238.98,500.61 239.05,500.55 239.16,500.20 239.27,499.84 239.34,500.44 239.38,500.74 239.52,501.25 239.71,502.71 239.89,503.34 240.07,503.58 240.26,503.64 240.44,504.29 240.62,504.17 240.81,503.81 240.99,503.77 241.17,504.32 241.36,504.23 241.54,503.97 241.72,504.52 241.91,503.97 242.09,503.74 242.27,504.37 242.46,503.99 242.64,504.15 242.82,504.05 243.01,503.75 243.19,503.69 243.37,503.98 243.56,504.44 243.74,503.74 243.92,504.42 244.10,504.09 244.29,503.70 244.47,504.10 244.65,504.18 244.84,503.75 245.02,503.39 245.20,504.12 245.39,503.69 245.57,504.14 245.75,503.45 245.94,503.96 246.12,503.76 246.30,503.57 246.49,503.92 246.67,504.04 246.85,503.83 247.04,503.64 247.22,504.05 247.40,503.47 247.59,504.14 247.77,504.12 247.95,504.47 248.14,504.23 248.32,504.08 248.50,504.05 248.68,503.98 248.87,503.58 249.05,504.39 249.23,504.11 249.42,503.87 249.60,503.62 249.78,504.39 249.97,504.11 250.15,503.60 250.33,504.14 250.52,504.50 250.70,503.94 250.88,504.06 251.03,503.82 251.07,503.75 251.14,504.25 251.25,504.83 251.36,503.97 251.43,503.90 251.47,504.16 251.62,503.84 251.80,504.14 251.98,504.17 252.17,503.63 252.35,503.61 252.53,503.90 252.72,504.16 252.90,503.99 253.08,504.27 253.26,503.51 253.45,504.05 253.63,503.72 253.81,503.93 254.00,503.99 254.18,503.61 254.36,503.83 254.55,503.55 254.73,503.97 254.91,503.64 255.10,503.74 255.28,503.95 255.46,503.69 255.65,504.21 255.83,503.69 256.01,504.12 256.20,503.95 256.38,503.57 256.56,503.80 256.75,503.62 256.93,503.76 257.11,503.78 257.30,504.39 257.48,503.73 257.66,504.31 257.84,503.98 258.03,503.47 258.21,503.17 258.39,504.04 258.58,503.26 258.76,504.05 258.94,504.14 259.13,503.95 259.31,503.77 259.49,503.76 259.68,503.90 259.86,503.74 260.04,503.67 260.23,503.71 260.41,504.16 260.59,503.64 260.78,503.92 260.96,503.48 261.14,503.60 261.33,503.41 261.51,503.75 261.69,504.00 261.88,503.89 262.06,503.65 262.24,503.97 262.42,503.69 262.61,503.90 262.79,503.87 262.97,503.94 263.16,503.06 263.34,503.40 263.52,504.00 263.71,503.74 263.89,504.43 264.07,503.70 264.26,503.61 264.44,504.20 264.62,503.93 264.81,504.31 264.99,503.91 265.17,503.70 265.36,503.97 265.54,503.52 265.72,503.62 265.91,503.59 266.09,503.68 266.27,503.97 266.46,503.60 266.64,503.83 266.82,503.59 267.00,503.99 267.19,502.93 267.37,503.67 267.55,503.78 267.74,503.41 267.92,504.02 268.10,503.78 268.29,504.09 268.47,503.99 268.65,503.90 268.84,503.67 269.02,503.39 269.20,503.64 269.39,503.57 269.57,503.77 269.75,503.56 269.90,504.58 269.94,503.23 270.01,504.04 270.12,503.56 270.23,503.62 270.30,503.96 270.34,503.69 270.49,503.34 270.67,503.81 270.85,503.63 271.04,503.09 271.22,503.74 271.40,503.37 271.58,503.46 271.77,503.81 271.95,503.76 272.13,503.58 272.32,504.30 272.50,503.79 272.68,503.48 272.87,503.73 273.05,503.62 273.23,503.02 273.42,503.20 273.60,503.25 273.78,504.25 273.97,503.59 274.15,503.56 274.33,503.48 274.52,503.92 274.70,503.64 274.88,504.13 275.07,503.86 275.25,504.11 275.43,503.59 275.62,503.73 275.80,503.50 275.98,503.57 276.16,503.12 276.35,503.45 276.53,503.34 276.71,503.42 276.90,503.96 277.08,503.68 277.26,503.96 277.45,503.85 277.63,503.86 277.81,503.89 278.00,503.42 278.18,503.82 278.36,503.50 278.55,503.43 278.73,503.93 278.91,504.21 279.10,503.30 279.28,504.08 279.46,503.82 279.65,503.33 279.83,503.65 280.01,503.68 280.20,503.68 280.38,503.47 280.56,503.22 280.74,503.66 280.93,504.04 281.11,504.25 281.29,504.50 281.37,504.72 281.48,504.22 281.59,504.54 281.66,504.63 281.70,504.80 281.81,504.44 281.84,504.50 282.03,504.11 282.21,504.42 282.39,503.02 282.58,503.57 282.76,504.26 282.94,503.60 283.13,503.00 283.31,503.57 283.49,503.11 283.68,503.33 283.86,503.58 284.04,504.01 284.23,503.65 284.41,503.71 284.59,503.80 284.78,503.57 284.96,503.26 285.10,503.48 285.14,503.60 285.21,503.42 285.32,503.31 285.43,503.40 285.51,503.06 285.54,503.20 285.69,503.47 285.87,503.39 286.06,503.50 286.24,503.89 286.42,503.57 286.61,503.48 286.79,503.14 286.97,503.17 287.16,503.59 287.34,503.22 287.52,503.60 287.71,503.16 287.89,503.51 288.07,503.44 288.26,503.75 288.44,503.35 288.62,503.35 288.81,503.53 288.99,503.47 289.17,503.94 289.36,503.38 289.54,503.29 289.72,503.35 289.90,503.58 290.09,503.51 290.27,503.64 290.45,503.04 290.64,504.15 290.82,503.96 291.00,503.42 291.19,503.08 291.37,503.47 291.55,503.54 291.74,502.77 291.92,503.42 292.10,502.99 292.29,503.54 292.47,503.81 292.65,503.71 292.84,502.97 293.02,503.80 293.20,503.66 293.39,503.29 293.57,503.54 293.75,503.83 293.94,503.30 294.12,503.38 294.30,503.22 294.48,503.72 294.67,502.76 294.85,503.79 295.03,503.10 295.22,503.64 295.40,502.90 295.58,503.10 295.77,503.20 295.95,503.60 296.13,502.89 296.32,503.53 296.50,503.17 296.68,503.71 296.87,503.26 297.05,503.49 297.23,503.30 297.42,503.86 297.60,503.24 297.78,503.33 297.97,503.91 298.15,503.36 298.33,503.53 298.52,503.12 298.70,503.39 298.88,502.67 299.06,503.36 299.25,503.14 299.43,502.89 299.61,502.91 299.76,503.65 299.80,503.44 299.87,502.88 299.98,503.84 300.09,503.11 300.16,503.21 300.20,503.38 300.35,502.98 300.53,502.84 300.71,503.09 300.90,503.64 301.08,503.57"/>
</g>
<line x1="75.49" y1="491.6" x2="75.49" y2="496.2" stroke="#000" stroke-width="1.1"/>
<line x1="118.80" y1="491.6" x2="118.80" y2="496.2" stroke="#000" stroke-width="1.1"/>
<line x1="138.69" y1="491.6" x2="138.69" y2="496.2" stroke="#000" stroke-width="1.1"/>
<line x1="144.81" y1="491.6" x2="144.81" y2="496.2" stroke="#000" stroke-width="1.1"/>
<line x1="167.27" y1="491.6" x2="167.27" y2="496.2" stroke="#000" stroke-width="1.1"/>
<line x1="205.49" y1="491.6" x2="205.49" y2="496.2" stroke="#000" stroke-width="1.1"/>
<line x1="218.49" y1="491.6" x2="218.49" y2="496.2" stroke="#000" stroke-width="1.1"/>
<line x1="239.16" y1="491.6" x2="239.16" y2="496.2" stroke="#000" stroke-width="1.1"/>
<line x1="250.96" y1="491.6" x2="250.96" y2="496.2" stroke="#000" stroke-width="1.1"/>
<line x1="254.55" y1="491.6" x2="254.55" y2="496.2" stroke="#000" stroke-width="1.1"/>
<line x1="270.12" y1="491.6" x2="270.12" y2="496.2" stroke="#000" stroke-width="1.1"/>
<line x1="281.59" y1="491.6" x2="281.59" y2="496.2" stroke="#000" stroke-width="1.1"/>
<line x1="286.06" y1="491.6" x2="286.06" y2="496.2" stroke="#000" stroke-width="1.1"/>
<line x1="299.98" y1="491.6" x2="299.98" y2="496.2" stroke="#000" stroke-width="1.1"/>
<rect x="44.9" y="320.6" width="256.2" height="193.6" fill="none" stroke="#000" stroke-width="1.5" transform="translate(0,0)"/>
<line x1="44.60" y1="514.2" x2="44.60" y2="517.70" stroke="#000" stroke-width="1.2"/>
<line x1="62.92" y1="514.2" x2="62.92" y2="516.20" stroke="#000" stroke-width="1.2"/>
<line x1="81.24" y1="514.2" x2="81.24" y2="517.70" stroke="#000" stroke-width="1.2"/>
<line x1="99.56" y1="514.2" x2="99.56" y2="516.20" stroke="#000" stroke-width="1.2"/>
<line x1="117.88" y1="514.2" x2="117.88" y2="517.70" stroke="#000" stroke-width="1.2"/>
<line x1="136.20" y1="514.2" x2="136.20" y2="516.20" stroke="#000" stroke-width="1.2"/>
<line x1="154.52" y1="514.2" x2="154.52" y2="517.70" stroke="#000" stroke-width="1.2"/>
<line x1="172.84" y1="514.2" x2="172.84" y2="516.20" stroke="#000" stroke-width="1.2"/>
<line x1="191.16" y1="514.2" x2="191.16" y2="517.70" stroke="#000" stroke-width="1.2"/>
<line x1="209.48" y1="514.2" x2="209.48" y2="516.20" stroke="#000" stroke-width="1.2"/>
<line x1="227.80" y1="514.2" x2="227.80" y2="517.70" stroke="#000" stroke-width="1.2"/>
<line x1="246.12" y1="514.2" x2="246.12" y2="516.20" stroke="#000" stroke-width="1.2"/>
<line x1="264.44" y1="514.2" x2="264.44" y2="517.70" stroke="#000" stroke-width="1.2"/>
<line x1="282.76" y1="514.2" x2="282.76" y2="516.20" stroke="#000" stroke-width="1.2"/>
<line x1="301.08" y1="514.2" x2="301.08" y2="517.70" stroke="#000" stroke-width="1.2"/>
<text x="44.90" y="530.9" font-size="13" text-anchor="middle" font-family="Liberation Sans, sans-serif">10</text>
<text x="81.54" y="530.9" font-size="13" text-anchor="middle" font-family="Liberation Sans, sans-serif">20</text>
<text x="118.18" y="530.9" font-size="13" text-anchor="middle" font-family="Liberation Sans, sans-serif">30</text>
<text x="154.82" y="530.9" font-size="13" text-anchor="middle" font-family="Liberation Sans, sans-serif">40</text>
<text x="191.46" y="530.9" font-size="13" text-anchor="middle" font-family="Liberation Sans, sans-serif">50</text>
<text x="228.10" y="530.9" font-size="13" text-anchor="middle" font-family="Liberation Sans, sans-serif">60</text>
<text x="264.74" y="530.9" font-size="13" text-anchor="middle" font-family="Liberation Sans, sans-serif">70</text>
<text x="301.38" y="530.9" font-size="13" text-anchor="middle" font-family="Liberation Sans, sans-serif">80</text>
<line x1="41.40" y1="484.40" x2="44.9" y2="484.40" stroke="#000" stroke-width="1.2"/>
<line x1="42.90" y1="469.50" x2="44.9" y2="469.50" stroke="#000" stroke-width="1.2"/>
<line x1="41.40" y1="454.60" x2="44.9" y2="454.60" stroke="#000" stroke-width="1.2"/>
<line x1="42.90" y1="439.70" x2="44.9" y2="439.70" stroke="#000" stroke-width="1.2"/>
<line x1="41.40" y1="424.80" x2="44.9" y2="424.80" stroke="#000" stroke-width="1.2"/>
<line x1="42.90" y1="409.90" x2="44.9" y2="409.90" stroke="#000" stroke-width="1.2"/>
<line x1="41.40" y1="395.00" x2="44.9" y2="395.00" stroke="#000" stroke-width="1.2"/>
<line x1="42.90" y1="380.10" x2="44.9" y2="380.10" stroke="#000" stroke-width="1.2"/>
<line x1="41.40" y1="365.20" x2="44.9" y2="365.20" stroke="#000" stroke-width="1.2"/>
<line x1="42.90" y1="350.30" x2="44.9" y2="350.30" stroke="#000" stroke-width="1.2"/>
<line x1="41.40" y1="335.40" x2="44.9" y2="335.40" stroke="#000" stroke-width="1.2"/>
<text x="39.2" y="488.90" font-size="13.3" text-anchor="end" font-family="Liberation Sans, sans-serif">10</text>
<text x="39.2" y="459.10" font-size="13.3" text-anchor="end" font-family="Liberation Sans, sans-serif">15</text>
<text x="39.2" y="429.30" font-size="13.3" text-anchor="end" font-family="Liberation Sans, sans-serif">20</text>
<text x="39.2" y="399.50" font-size="13.3" text-anchor="end" font-family="Liberation Sans, sans-serif">25</text>
<text x="39.2" y="369.70" font-size="13.3" text-anchor="end" font-family="Liberation Sans, sans-serif">30</text>
<text x="39.2" y="339.90" font-size="13.3" text-anchor="end" font-family="Liberation Sans, sans-serif">35</text>
<text x="160.6" y="545.8" font-size="13" text-anchor="start" font-family="Liberation Sans, sans-serif">2&#952; (&#176;)</text>
<text transform="translate(20.9,470.6) rotate(-90)" font-size="13.2" font-family="Liberation Sans, sans-serif">Intensity x10<tspan font-size="9.6" dy="-5.2">3</tspan><tspan dy="5.2"> (a.u)</tspan></text>
<text transform="translate(79.80,468.20) rotate(-90)" font-size="9.4" font-family="Liberation Sans, sans-serif">(111)</text>
<text transform="translate(122.30,431.90) rotate(-90)" font-size="9.4" font-family="Liberation Sans, sans-serif">(220)</text>
<text transform="translate(132.90,354.40) rotate(-90)" font-size="9.4" font-family="Liberation Sans, sans-serif">(311)</text>
<text transform="translate(151.40,465.40) rotate(-90)" font-size="9.4" font-family="Liberation Sans, sans-serif">(222)</text>
<text transform="translate(170.20,442.80) rotate(-90)" font-size="9.4" font-family="Liberation Sans, sans-serif">(400)</text>
<text transform="translate(209.20,467.00) rotate(-90)" font-size="9.4" font-family="Liberation Sans, sans-serif">(422)</text>
<text transform="translate(222.70,440.40) rotate(-90)" font-size="9.4" font-family="Liberation Sans, sans-serif">(511)</text>
<text transform="translate(243.70,427.40) rotate(-90)" font-size="9.4" font-family="Liberation Sans, sans-serif">(440)</text>
<text transform="translate(254.90,475.90) rotate(-90)" font-size="9.4" font-family="Liberation Sans, sans-serif">(442)</text>
<text transform="translate(274.10,475.20) rotate(-90)" font-size="9.4" font-family="Liberation Sans, sans-serif">(620)</text>
<text transform="translate(282.90,453.30) rotate(-90)" font-size="9.4" font-family="Liberation Sans, sans-serif">(533)</text>
<text transform="translate(296.80,455.40) rotate(-90)" font-size="9.4" font-family="Liberation Sans, sans-serif">(444)</text>
<line x1="282" y1="458" x2="282" y2="466" stroke="#000" stroke-width="0.8"/><path d="M280.3,465 L283.7,465 L282,469.5 Z" fill="#000"/>
<line x1="295.2" y1="457.2" x2="288" y2="471" stroke="#000" stroke-width="0.8"/><path d="M286.4,469.4 L289.6,471.2 L286.3,474.3 Z" fill="#000"/>
<circle cx="196" cy="331.2" r="2.5" fill="#111"/><circle cx="195.3" cy="330.5" r="0.8" fill="#888"/>
<line x1="186.8" y1="340.6" x2="204.5" y2="340.6" stroke="#f02020" stroke-width="1"/>
<line x1="186.8" y1="350.3" x2="204.5" y2="350.3" stroke="#8080ff" stroke-width="1"/>
<line x1="196" y1="356.6" x2="196" y2="365.4" stroke="#000" stroke-width="1.6"/>
<text x="207.3" y="333.8" font-size="7.85" font-family="Liberation Sans, sans-serif">Experimental data</text>
<text x="207.3" y="342.9" font-size="7.85" font-family="Liberation Sans, sans-serif">Calculated data</text>
<text x="207.3" y="352.6" font-size="7.85" font-family="Liberation Sans, sans-serif">Difference</text>
<text x="207.3" y="363.0" font-size="7.85" font-family="Liberation Sans, sans-serif">NiFe<tspan font-size="5.4" dy="1.8">2</tspan><tspan dy="-1.8">O</tspan><tspan font-size="5.4" dy="1.8">4</tspan><tspan dy="-1.8"> (ICSD - 28108)</tspan></text>
<rect x="222.5" y="377.5" width="69.4" height="13.8" fill="#fff" stroke="#444" stroke-width="0.8"/>
<text x="223.6" y="387.3" font-size="10.5" textLength="67.4" lengthAdjust="spacingAndGlyphs" font-family="Liberation Sans, sans-serif">D<tspan font-size="6.3" dy="1.6">Rietveld</tspan><tspan dy="-1.6"> = 110 nm</tspan></text>
<polygon points="375.0,296.3 326.1,349.4 395.0,364.5" fill="#a3bfd8" fill-opacity="1.00" />
<polygon points="375.0,296.3 395.0,364.5 428.0,343.5" fill="#b6dee7" fill-opacity="1.00" />
<polygon points="326.1,349.4 379.0,396.0 395.0,364.5" fill="#7f98b1" fill-opacity="1.00" />
<polygon points="395.0,364.5 379.0,396.0 428.0,343.5" fill="#8ea8c0" fill-opacity="1.00" />
<polygon points="375.0,296.3 358.5,327.4 326.1,349.4" fill="#b0c8de" fill-opacity="0.50" />
<polygon points="358.5,327.4 326.1,349.4 377.2,346.2" fill="#9db6ce" fill-opacity="0.35" />
<polygon points="375.0,296.5 394.0,296.5 405.0,330.0 395.0,364.5" fill="#c2e6ec" fill-opacity="0.00" />
<line x1="326.1" y1="349.4" x2="428.0" y2="343.5" stroke="#5a6470" stroke-width="0.7"/>
<line x1="358.5" y1="327.4" x2="377.2" y2="346.2" stroke="#3a4450" stroke-width="0.8"/>
<path d="M360.1,345.6 A14.3,11.8 0 0 1 388.8,345" fill="none" stroke="#3a4450" stroke-width="0.7"/>
<circle cx="358.5" cy="327.4" r="3.4" fill="#b85a70" fill-opacity="0.8" stroke="#8a4a5a" stroke-width="0.4"/>
<circle cx="377.2" cy="346.2" r="7.0" fill="url(#gsb)"/>
<line x1="326" y1="332.2" x2="360.1" y2="340.5" stroke="#5070d0" stroke-width="0.7"/>
<line x1="413" y1="322" x2="384.1" y2="337.5" stroke="#5070d0" stroke-width="0.7"/>
<circle cx="375.0" cy="296.3" r="4.3" fill="url(#gred2)"/>
<circle cx="326.1" cy="349.4" r="4.3" fill="url(#gred2)"/>
<circle cx="428.0" cy="343.5" r="4.3" fill="url(#gred2)"/>
<circle cx="395.0" cy="364.5" r="4.3" fill="url(#gred2)"/>
<circle cx="379.0" cy="396.0" r="4.3" fill="url(#gred2)"/>
<text x="305" y="330.4" font-size="9.6" fill="#222" font-family="Liberation Sans, sans-serif">87.88&#176;</text>
<text x="404.5" y="318.2" font-size="9.6" fill="#222" font-family="Liberation Sans, sans-serif">92.12&#176;</text>
<polygon points="321.0,433.2 425.8,441.9 383.5,516.7 350.4,514.3" fill="#9fbfdd" fill-opacity="1.00" />
<polygon points="425.8,441.9 383.5,516.7 350.4,514.3" fill="#7f98b2" fill-opacity="1.00" />
<circle cx="369.6" cy="476.1" r="10.6" fill="url(#gtb)"/>
<circle cx="321.0" cy="433.2" r="5.7" fill="url(#gred2)"/>
<circle cx="425.8" cy="441.9" r="5.7" fill="url(#gred2)"/>
<circle cx="350.4" cy="514.3" r="5.7" fill="url(#gred2)"/>
<circle cx="383.5" cy="516.7" r="5.7" fill="url(#gred2)"/>
<text x="359" y="460" font-size="9.2" fill="#222" font-family="Liberation Sans, sans-serif">109.47&#176;</text>
<rect x="109.26" y="584.20" width="282.45" height="206.50" fill="none" stroke="#222" stroke-width="1.2"/>
<line x1="109.26" y1="790.70" x2="109.26" y2="792.70" stroke="#222" stroke-width="1"/>
<line x1="125.40" y1="790.70" x2="125.40" y2="794.50" stroke="#222" stroke-width="1"/>
<line x1="141.54" y1="790.70" x2="141.54" y2="792.70" stroke="#222" stroke-width="1"/>
<line x1="157.68" y1="790.70" x2="157.68" y2="794.50" stroke="#222" stroke-width="1"/>
<line x1="173.82" y1="790.70" x2="173.82" y2="792.70" stroke="#222" stroke-width="1"/>
<line x1="189.96" y1="790.70" x2="189.96" y2="794.50" stroke="#222" stroke-width="1"/>
<line x1="206.10" y1="790.70" x2="206.10" y2="792.70" stroke="#222" stroke-width="1"/>
<line x1="222.24" y1="790.70" x2="222.24" y2="794.50" stroke="#222" stroke-width="1"/>
<line x1="238.38" y1="790.70" x2="238.38" y2="792.70" stroke="#222" stroke-width="1"/>
<line x1="254.52" y1="790.70" x2="254.52" y2="794.50" stroke="#222" stroke-width="1"/>
<line x1="270.66" y1="790.70" x2="270.66" y2="792.70" stroke="#222" stroke-width="1"/>
<line x1="286.80" y1="790.70" x2="286.80" y2="794.50" stroke="#222" stroke-width="1"/>
<line x1="302.94" y1="790.70" x2="302.94" y2="792.70" stroke="#222" stroke-width="1"/>
<line x1="319.08" y1="790.70" x2="319.08" y2="794.50" stroke="#222" stroke-width="1"/>
<line x1="335.22" y1="790.70" x2="335.22" y2="792.70" stroke="#222" stroke-width="1"/>
<line x1="351.36" y1="790.70" x2="351.36" y2="794.50" stroke="#222" stroke-width="1"/>
<line x1="367.50" y1="790.70" x2="367.50" y2="792.70" stroke="#222" stroke-width="1"/>
<line x1="383.64" y1="790.70" x2="383.64" y2="794.50" stroke="#222" stroke-width="1"/>
<text x="125.40" y="807.6" font-size="12.9" text-anchor="middle" font-family="Liberation Sans, sans-serif">0.6</text>
<text x="157.68" y="807.6" font-size="12.9" text-anchor="middle" font-family="Liberation Sans, sans-serif">0.8</text>
<text x="189.96" y="807.6" font-size="12.9" text-anchor="middle" font-family="Liberation Sans, sans-serif">1.0</text>
<text x="222.24" y="807.6" font-size="12.9" text-anchor="middle" font-family="Liberation Sans, sans-serif">1.2</text>
<text x="254.52" y="807.6" font-size="12.9" text-anchor="middle" font-family="Liberation Sans, sans-serif">1.4</text>
<text x="286.80" y="807.6" font-size="12.9" text-anchor="middle" font-family="Liberation Sans, sans-serif">1.6</text>
<text x="319.08" y="807.6" font-size="12.9" text-anchor="middle" font-family="Liberation Sans, sans-serif">1.8</text>
<text x="351.36" y="807.6" font-size="12.9" text-anchor="middle" font-family="Liberation Sans, sans-serif">2.0</text>
<text x="383.64" y="807.6" font-size="12.9" text-anchor="middle" font-family="Liberation Sans, sans-serif">2.2</text>
<line x1="105.46" y1="790.70" x2="109.26" y2="790.70" stroke="#222" stroke-width="1"/>
<line x1="107.26" y1="770.05" x2="109.26" y2="770.05" stroke="#222" stroke-width="1"/>
<line x1="105.46" y1="749.40" x2="109.26" y2="749.40" stroke="#222" stroke-width="1"/>
<line x1="107.26" y1="728.75" x2="109.26" y2="728.75" stroke="#222" stroke-width="1"/>
<line x1="105.46" y1="708.10" x2="109.26" y2="708.10" stroke="#222" stroke-width="1"/>
<line x1="107.26" y1="687.45" x2="109.26" y2="687.45" stroke="#222" stroke-width="1"/>
<line x1="105.46" y1="666.80" x2="109.26" y2="666.80" stroke="#222" stroke-width="1"/>
<line x1="107.26" y1="646.15" x2="109.26" y2="646.15" stroke="#222" stroke-width="1"/>
<line x1="105.46" y1="625.50" x2="109.26" y2="625.50" stroke="#222" stroke-width="1"/>
<line x1="107.26" y1="604.85" x2="109.26" y2="604.85" stroke="#222" stroke-width="1"/>
<line x1="105.46" y1="584.20" x2="109.26" y2="584.20" stroke="#222" stroke-width="1"/>
<text x="103.5" y="795.20" font-size="12.9" text-anchor="end" font-family="Liberation Sans, sans-serif">3.0</text>
<text x="103.5" y="753.90" font-size="12.9" text-anchor="end" font-family="Liberation Sans, sans-serif">3.5</text>
<text x="103.5" y="712.60" font-size="12.9" text-anchor="end" font-family="Liberation Sans, sans-serif">4.0</text>
<text x="103.5" y="671.30" font-size="12.9" text-anchor="end" font-family="Liberation Sans, sans-serif">4.5</text>
<text x="103.5" y="630.00" font-size="12.9" text-anchor="end" font-family="Liberation Sans, sans-serif">5.0</text>
<text x="103.5" y="588.70" font-size="12.9" text-anchor="end" font-family="Liberation Sans, sans-serif">5.5</text>
<text x="231.2" y="825.2" font-size="14.2" font-family="Liberation Sans, sans-serif">4 sin&#952;</text>
<text transform="translate(78.8,758.6) rotate(-90)" font-size="14.2" font-family="Liberation Sans, sans-serif">&#946; cos&#952; (x 10<tspan font-size="9.2" dy="-5.6">-3</tspan><tspan dy="5.6"> radians)</tspan></text>
<line x1="131.1" y1="787.4" x2="365.8" y2="618.1" stroke="#f01010" stroke-width="1.9"/>
<circle cx="131.50" cy="768.20" r="3.9" fill="url(#gblue)"/>
<circle cx="196.90" cy="749.90" r="3.9" fill="url(#gblue)"/>
<circle cx="226.10" cy="711.80" r="3.9" fill="url(#gblue)"/>
<circle cx="234.90" cy="747.20" r="3.9" fill="url(#gblue)"/>
<circle cx="266.60" cy="705.50" r="3.9" fill="url(#gblue)"/>
<circle cx="319.90" cy="623.80" r="3.9" fill="url(#gblue)"/>
<circle cx="337.80" cy="605.80" r="3.9" fill="url(#gblue)"/>
<circle cx="365.50" cy="645.00" r="3.9" fill="url(#gblue)"/>
<text transform="translate(135.80,758.30) rotate(-90)" font-size="12.8" font-family="Liberation Sans, sans-serif">111</text>
<text transform="translate(202.00,780.60) rotate(-90)" font-size="12.8" font-family="Liberation Sans, sans-serif">220</text>
<text transform="translate(228.70,698.80) rotate(-90)" font-size="12.8" font-family="Liberation Sans, sans-serif">311</text>
<text transform="translate(239.20,776.60) rotate(-90)" font-size="12.8" font-family="Liberation Sans, sans-serif">222</text>
<text transform="translate(271.30,737.10) rotate(-90)" font-size="12.8" font-family="Liberation Sans, sans-serif">400</text>
<text transform="translate(324.30,615.20) rotate(-90)" font-size="12.8" font-family="Liberation Sans, sans-serif">422</text>
<text transform="translate(354.60,617.70) rotate(-90)" font-size="12.8" font-family="Liberation Sans, sans-serif">511</text>
<text transform="translate(370.40,675.00) rotate(-90)" font-size="12.8" font-family="Liberation Sans, sans-serif">440</text>
<text x="119" y="611.6" font-size="15.9" font-family="Liberation Sans, sans-serif">y = 0.00141 x + 0.00215</text>
<text x="153.6" y="642.9" font-size="15.6" font-family="Liberation Sans, sans-serif">D = 64.54 nm</text>
<text transform="translate(13.6,41.1) scale(0.87,1)" font-size="31.2" font-weight="bold" font-family="Liberation Sans, sans-serif">a</text>
<text transform="translate(12.36,306.3) scale(0.935,1)" font-size="31.2" font-weight="bold" font-family="Liberation Sans, sans-serif">b</text>
<text transform="translate(11.5,599.5) scale(0.8,1)" font-size="31.2" font-weight="bold" font-family="Liberation Sans, sans-serif">c</text>
<rect x="1.35" y="1.1" width="2.25" height="848" fill="#000"/>
<rect x="1.35" y="1.1" width="439.6" height="2.3" fill="#000"/>
<rect x="436.6" y="1.1" width="4.4" height="848" fill="#000"/>
<rect x="1.35" y="844.9" width="439.6" height="4.2" fill="#000"/>
<rect x="1.35" y="269.5" width="439.6" height="4.3" fill="#000"/>
<rect x="1.35" y="557.1" width="439.6" height="4.6" fill="#000"/>
</svg></body></html>
